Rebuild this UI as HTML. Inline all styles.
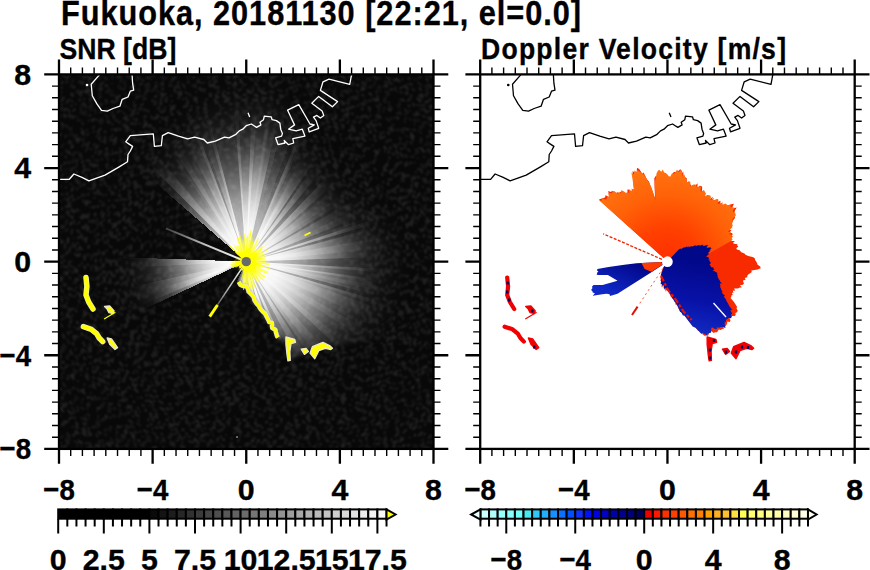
<!DOCTYPE html><html><head><meta charset="utf-8"><style>html,body{margin:0;padding:0;background:#fff;width:870px;height:570px;overflow:hidden}svg{display:block}text{font-family:"Liberation Sans",sans-serif;font-weight:bold;fill:#000;stroke:#000;stroke-width:0.35px}</style></head><body><svg width="870" height="570" viewBox="0 0 870 570"><rect x="59.0" y="74.4" width="374.5" height="374.5" fill="#080808"/><defs><filter id="bl2" color-interpolation-filters="sRGB" filterUnits="userSpaceOnUse" x="0" y="0" width="870" height="570"><feGaussianBlur stdDeviation="2.2"/></filter><filter id="bl" color-interpolation-filters="sRGB" x="-5%" y="-5%" width="110%" height="110%"><feGaussianBlur stdDeviation="1.0"/></filter><clipPath id="cpL"><rect x="59" y="74.4" width="374.5" height="374.5"/></clipPath><clipPath id="cpR"><rect x="480.2" y="74.4" width="374.5" height="374.5"/></clipPath><radialGradient id="gb0" gradientUnits="userSpaceOnUse" cx="246.25" cy="261.65" r="200"><stop offset="0.000" stop-color="#fff" stop-opacity="0.997"/><stop offset="0.083" stop-color="#fff" stop-opacity="0.995"/><stop offset="0.167" stop-color="#fff" stop-opacity="0.947"/><stop offset="0.250" stop-color="#fff" stop-opacity="0.817"/><stop offset="0.333" stop-color="#fff" stop-opacity="0.619"/><stop offset="0.417" stop-color="#fff" stop-opacity="0.402"/><stop offset="0.500" stop-color="#fff" stop-opacity="0.218"/><stop offset="0.583" stop-color="#fff" stop-opacity="0.096"/><stop offset="0.667" stop-color="#fff" stop-opacity="0.033"/><stop offset="0.750" stop-color="#fff" stop-opacity="0.007"/><stop offset="0.833" stop-color="#fff" stop-opacity="0.000"/><stop offset="0.917" stop-color="#fff" stop-opacity="0.000"/><stop offset="1.000" stop-color="#fff" stop-opacity="0.000"/></radialGradient><radialGradient id="gb1" gradientUnits="userSpaceOnUse" cx="246.25" cy="261.65" r="200"><stop offset="0.000" stop-color="#fff" stop-opacity="0.997"/><stop offset="0.083" stop-color="#fff" stop-opacity="0.995"/><stop offset="0.167" stop-color="#fff" stop-opacity="0.947"/><stop offset="0.250" stop-color="#fff" stop-opacity="0.817"/><stop offset="0.333" stop-color="#fff" stop-opacity="0.619"/><stop offset="0.417" stop-color="#fff" stop-opacity="0.402"/><stop offset="0.500" stop-color="#fff" stop-opacity="0.218"/><stop offset="0.583" stop-color="#fff" stop-opacity="0.096"/><stop offset="0.667" stop-color="#fff" stop-opacity="0.033"/><stop offset="0.750" stop-color="#fff" stop-opacity="0.007"/><stop offset="0.833" stop-color="#fff" stop-opacity="0.000"/><stop offset="0.917" stop-color="#fff" stop-opacity="0.000"/><stop offset="1.000" stop-color="#fff" stop-opacity="0.000"/></radialGradient><radialGradient id="gb2" gradientUnits="userSpaceOnUse" cx="246.25" cy="261.65" r="200"><stop offset="0.000" stop-color="#fff" stop-opacity="0.997"/><stop offset="0.083" stop-color="#fff" stop-opacity="0.995"/><stop offset="0.167" stop-color="#fff" stop-opacity="0.947"/><stop offset="0.250" stop-color="#fff" stop-opacity="0.817"/><stop offset="0.333" stop-color="#fff" stop-opacity="0.619"/><stop offset="0.417" stop-color="#fff" stop-opacity="0.402"/><stop offset="0.500" stop-color="#fff" stop-opacity="0.218"/><stop offset="0.583" stop-color="#fff" stop-opacity="0.096"/><stop offset="0.667" stop-color="#fff" stop-opacity="0.033"/><stop offset="0.750" stop-color="#fff" stop-opacity="0.007"/><stop offset="0.833" stop-color="#fff" stop-opacity="0.000"/><stop offset="0.917" stop-color="#fff" stop-opacity="0.000"/><stop offset="1.000" stop-color="#fff" stop-opacity="0.000"/></radialGradient><radialGradient id="gb3" gradientUnits="userSpaceOnUse" cx="246.25" cy="261.65" r="200"><stop offset="0.000" stop-color="#fff" stop-opacity="0.997"/><stop offset="0.083" stop-color="#fff" stop-opacity="0.995"/><stop offset="0.167" stop-color="#fff" stop-opacity="0.947"/><stop offset="0.250" stop-color="#fff" stop-opacity="0.817"/><stop offset="0.333" stop-color="#fff" stop-opacity="0.619"/><stop offset="0.417" stop-color="#fff" stop-opacity="0.402"/><stop offset="0.500" stop-color="#fff" stop-opacity="0.218"/><stop offset="0.583" stop-color="#fff" stop-opacity="0.096"/><stop offset="0.667" stop-color="#fff" stop-opacity="0.033"/><stop offset="0.750" stop-color="#fff" stop-opacity="0.007"/><stop offset="0.833" stop-color="#fff" stop-opacity="0.000"/><stop offset="0.917" stop-color="#fff" stop-opacity="0.000"/><stop offset="1.000" stop-color="#fff" stop-opacity="0.000"/></radialGradient><radialGradient id="gb4" gradientUnits="userSpaceOnUse" cx="246.25" cy="261.65" r="200"><stop offset="0.000" stop-color="#fff" stop-opacity="0.997"/><stop offset="0.083" stop-color="#fff" stop-opacity="0.995"/><stop offset="0.167" stop-color="#fff" stop-opacity="0.947"/><stop offset="0.250" stop-color="#fff" stop-opacity="0.817"/><stop offset="0.333" stop-color="#fff" stop-opacity="0.619"/><stop offset="0.417" stop-color="#fff" stop-opacity="0.402"/><stop offset="0.500" stop-color="#fff" stop-opacity="0.218"/><stop offset="0.583" stop-color="#fff" stop-opacity="0.096"/><stop offset="0.667" stop-color="#fff" stop-opacity="0.033"/><stop offset="0.750" stop-color="#fff" stop-opacity="0.007"/><stop offset="0.833" stop-color="#fff" stop-opacity="0.000"/><stop offset="0.917" stop-color="#fff" stop-opacity="0.000"/><stop offset="1.000" stop-color="#fff" stop-opacity="0.000"/></radialGradient><radialGradient id="gb5" gradientUnits="userSpaceOnUse" cx="246.25" cy="261.65" r="200"><stop offset="0.000" stop-color="#fff" stop-opacity="0.997"/><stop offset="0.083" stop-color="#fff" stop-opacity="0.995"/><stop offset="0.167" stop-color="#fff" stop-opacity="0.947"/><stop offset="0.250" stop-color="#fff" stop-opacity="0.817"/><stop offset="0.333" stop-color="#fff" stop-opacity="0.619"/><stop offset="0.417" stop-color="#fff" stop-opacity="0.402"/><stop offset="0.500" stop-color="#fff" stop-opacity="0.218"/><stop offset="0.583" stop-color="#fff" stop-opacity="0.096"/><stop offset="0.667" stop-color="#fff" stop-opacity="0.033"/><stop offset="0.750" stop-color="#fff" stop-opacity="0.007"/><stop offset="0.833" stop-color="#fff" stop-opacity="0.000"/><stop offset="0.917" stop-color="#fff" stop-opacity="0.000"/><stop offset="1.000" stop-color="#fff" stop-opacity="0.000"/></radialGradient><radialGradient id="gb6" gradientUnits="userSpaceOnUse" cx="246.25" cy="261.65" r="200"><stop offset="0.000" stop-color="#fff" stop-opacity="0.997"/><stop offset="0.083" stop-color="#fff" stop-opacity="0.995"/><stop offset="0.167" stop-color="#fff" stop-opacity="0.947"/><stop offset="0.250" stop-color="#fff" stop-opacity="0.817"/><stop offset="0.333" stop-color="#fff" stop-opacity="0.619"/><stop offset="0.417" stop-color="#fff" stop-opacity="0.402"/><stop offset="0.500" stop-color="#fff" stop-opacity="0.218"/><stop offset="0.583" stop-color="#fff" stop-opacity="0.096"/><stop offset="0.667" stop-color="#fff" stop-opacity="0.033"/><stop offset="0.750" stop-color="#fff" stop-opacity="0.007"/><stop offset="0.833" stop-color="#fff" stop-opacity="0.000"/><stop offset="0.917" stop-color="#fff" stop-opacity="0.000"/><stop offset="1.000" stop-color="#fff" stop-opacity="0.000"/></radialGradient><radialGradient id="gb7" gradientUnits="userSpaceOnUse" cx="246.25" cy="261.65" r="200"><stop offset="0.000" stop-color="#fff" stop-opacity="0.997"/><stop offset="0.083" stop-color="#fff" stop-opacity="0.995"/><stop offset="0.167" stop-color="#fff" stop-opacity="0.947"/><stop offset="0.250" stop-color="#fff" stop-opacity="0.817"/><stop offset="0.333" stop-color="#fff" stop-opacity="0.619"/><stop offset="0.417" stop-color="#fff" stop-opacity="0.402"/><stop offset="0.500" stop-color="#fff" stop-opacity="0.218"/><stop offset="0.583" stop-color="#fff" stop-opacity="0.096"/><stop offset="0.667" stop-color="#fff" stop-opacity="0.033"/><stop offset="0.750" stop-color="#fff" stop-opacity="0.007"/><stop offset="0.833" stop-color="#fff" stop-opacity="0.000"/><stop offset="0.917" stop-color="#fff" stop-opacity="0.000"/><stop offset="1.000" stop-color="#fff" stop-opacity="0.000"/></radialGradient><radialGradient id="gb8" gradientUnits="userSpaceOnUse" cx="246.25" cy="261.65" r="200"><stop offset="0.000" stop-color="#fff" stop-opacity="0.997"/><stop offset="0.083" stop-color="#fff" stop-opacity="0.995"/><stop offset="0.167" stop-color="#fff" stop-opacity="0.947"/><stop offset="0.250" stop-color="#fff" stop-opacity="0.817"/><stop offset="0.333" stop-color="#fff" stop-opacity="0.619"/><stop offset="0.417" stop-color="#fff" stop-opacity="0.402"/><stop offset="0.500" stop-color="#fff" stop-opacity="0.218"/><stop offset="0.583" stop-color="#fff" stop-opacity="0.096"/><stop offset="0.667" stop-color="#fff" stop-opacity="0.033"/><stop offset="0.750" stop-color="#fff" stop-opacity="0.007"/><stop offset="0.833" stop-color="#fff" stop-opacity="0.000"/><stop offset="0.917" stop-color="#fff" stop-opacity="0.000"/><stop offset="1.000" stop-color="#fff" stop-opacity="0.000"/></radialGradient><radialGradient id="gb9" gradientUnits="userSpaceOnUse" cx="246.25" cy="261.65" r="200"><stop offset="0.000" stop-color="#fff" stop-opacity="0.997"/><stop offset="0.083" stop-color="#fff" stop-opacity="0.995"/><stop offset="0.167" stop-color="#fff" stop-opacity="0.947"/><stop offset="0.250" stop-color="#fff" stop-opacity="0.817"/><stop offset="0.333" stop-color="#fff" stop-opacity="0.619"/><stop offset="0.417" stop-color="#fff" stop-opacity="0.402"/><stop offset="0.500" stop-color="#fff" stop-opacity="0.218"/><stop offset="0.583" stop-color="#fff" stop-opacity="0.096"/><stop offset="0.667" stop-color="#fff" stop-opacity="0.033"/><stop offset="0.750" stop-color="#fff" stop-opacity="0.007"/><stop offset="0.833" stop-color="#fff" stop-opacity="0.000"/><stop offset="0.917" stop-color="#fff" stop-opacity="0.000"/><stop offset="1.000" stop-color="#fff" stop-opacity="0.000"/></radialGradient><radialGradient id="gb10" gradientUnits="userSpaceOnUse" cx="246.25" cy="261.65" r="200"><stop offset="0.000" stop-color="#fff" stop-opacity="0.997"/><stop offset="0.083" stop-color="#fff" stop-opacity="0.995"/><stop offset="0.167" stop-color="#fff" stop-opacity="0.947"/><stop offset="0.250" stop-color="#fff" stop-opacity="0.817"/><stop offset="0.333" stop-color="#fff" stop-opacity="0.619"/><stop offset="0.417" stop-color="#fff" stop-opacity="0.402"/><stop offset="0.500" stop-color="#fff" stop-opacity="0.218"/><stop offset="0.583" stop-color="#fff" stop-opacity="0.096"/><stop offset="0.667" stop-color="#fff" stop-opacity="0.033"/><stop offset="0.750" stop-color="#fff" stop-opacity="0.007"/><stop offset="0.833" stop-color="#fff" stop-opacity="0.000"/><stop offset="0.917" stop-color="#fff" stop-opacity="0.000"/><stop offset="1.000" stop-color="#fff" stop-opacity="0.000"/></radialGradient><radialGradient id="gb11" gradientUnits="userSpaceOnUse" cx="246.25" cy="261.65" r="200"><stop offset="0.000" stop-color="#fff" stop-opacity="0.997"/><stop offset="0.083" stop-color="#fff" stop-opacity="0.995"/><stop offset="0.167" stop-color="#fff" stop-opacity="0.947"/><stop offset="0.250" stop-color="#fff" stop-opacity="0.817"/><stop offset="0.333" stop-color="#fff" stop-opacity="0.620"/><stop offset="0.417" stop-color="#fff" stop-opacity="0.403"/><stop offset="0.500" stop-color="#fff" stop-opacity="0.219"/><stop offset="0.583" stop-color="#fff" stop-opacity="0.097"/><stop offset="0.667" stop-color="#fff" stop-opacity="0.034"/><stop offset="0.750" stop-color="#fff" stop-opacity="0.008"/><stop offset="0.833" stop-color="#fff" stop-opacity="0.000"/><stop offset="0.917" stop-color="#fff" stop-opacity="0.000"/><stop offset="1.000" stop-color="#fff" stop-opacity="0.000"/></radialGradient><radialGradient id="gb12" gradientUnits="userSpaceOnUse" cx="246.25" cy="261.65" r="200"><stop offset="0.000" stop-color="#fff" stop-opacity="0.997"/><stop offset="0.083" stop-color="#fff" stop-opacity="0.995"/><stop offset="0.167" stop-color="#fff" stop-opacity="0.947"/><stop offset="0.250" stop-color="#fff" stop-opacity="0.819"/><stop offset="0.333" stop-color="#fff" stop-opacity="0.623"/><stop offset="0.417" stop-color="#fff" stop-opacity="0.406"/><stop offset="0.500" stop-color="#fff" stop-opacity="0.222"/><stop offset="0.583" stop-color="#fff" stop-opacity="0.099"/><stop offset="0.667" stop-color="#fff" stop-opacity="0.035"/><stop offset="0.750" stop-color="#fff" stop-opacity="0.008"/><stop offset="0.833" stop-color="#fff" stop-opacity="0.000"/><stop offset="0.917" stop-color="#fff" stop-opacity="0.000"/><stop offset="1.000" stop-color="#fff" stop-opacity="0.000"/></radialGradient><radialGradient id="gb13" gradientUnits="userSpaceOnUse" cx="246.25" cy="261.65" r="200"><stop offset="0.000" stop-color="#fff" stop-opacity="0.997"/><stop offset="0.083" stop-color="#fff" stop-opacity="0.995"/><stop offset="0.167" stop-color="#fff" stop-opacity="0.948"/><stop offset="0.250" stop-color="#fff" stop-opacity="0.820"/><stop offset="0.333" stop-color="#fff" stop-opacity="0.625"/><stop offset="0.417" stop-color="#fff" stop-opacity="0.409"/><stop offset="0.500" stop-color="#fff" stop-opacity="0.225"/><stop offset="0.583" stop-color="#fff" stop-opacity="0.101"/><stop offset="0.667" stop-color="#fff" stop-opacity="0.036"/><stop offset="0.750" stop-color="#fff" stop-opacity="0.009"/><stop offset="0.833" stop-color="#fff" stop-opacity="0.000"/><stop offset="0.917" stop-color="#fff" stop-opacity="0.000"/><stop offset="1.000" stop-color="#fff" stop-opacity="0.000"/></radialGradient><radialGradient id="gb14" gradientUnits="userSpaceOnUse" cx="246.25" cy="261.65" r="200"><stop offset="0.000" stop-color="#fff" stop-opacity="0.997"/><stop offset="0.083" stop-color="#fff" stop-opacity="0.995"/><stop offset="0.167" stop-color="#fff" stop-opacity="0.948"/><stop offset="0.250" stop-color="#fff" stop-opacity="0.822"/><stop offset="0.333" stop-color="#fff" stop-opacity="0.628"/><stop offset="0.417" stop-color="#fff" stop-opacity="0.413"/><stop offset="0.500" stop-color="#fff" stop-opacity="0.228"/><stop offset="0.583" stop-color="#fff" stop-opacity="0.103"/><stop offset="0.667" stop-color="#fff" stop-opacity="0.037"/><stop offset="0.750" stop-color="#fff" stop-opacity="0.009"/><stop offset="0.833" stop-color="#fff" stop-opacity="0.000"/><stop offset="0.917" stop-color="#fff" stop-opacity="0.000"/><stop offset="1.000" stop-color="#fff" stop-opacity="0.000"/></radialGradient><radialGradient id="gb15" gradientUnits="userSpaceOnUse" cx="246.25" cy="261.65" r="200"><stop offset="0.000" stop-color="#fff" stop-opacity="0.997"/><stop offset="0.083" stop-color="#fff" stop-opacity="0.995"/><stop offset="0.167" stop-color="#fff" stop-opacity="0.948"/><stop offset="0.250" stop-color="#fff" stop-opacity="0.823"/><stop offset="0.333" stop-color="#fff" stop-opacity="0.630"/><stop offset="0.417" stop-color="#fff" stop-opacity="0.416"/><stop offset="0.500" stop-color="#fff" stop-opacity="0.231"/><stop offset="0.583" stop-color="#fff" stop-opacity="0.105"/><stop offset="0.667" stop-color="#fff" stop-opacity="0.038"/><stop offset="0.750" stop-color="#fff" stop-opacity="0.009"/><stop offset="0.833" stop-color="#fff" stop-opacity="0.000"/><stop offset="0.917" stop-color="#fff" stop-opacity="0.000"/><stop offset="1.000" stop-color="#fff" stop-opacity="0.000"/></radialGradient><radialGradient id="gb16" gradientUnits="userSpaceOnUse" cx="246.25" cy="261.65" r="200"><stop offset="0.000" stop-color="#fff" stop-opacity="0.997"/><stop offset="0.083" stop-color="#fff" stop-opacity="0.995"/><stop offset="0.167" stop-color="#fff" stop-opacity="0.949"/><stop offset="0.250" stop-color="#fff" stop-opacity="0.824"/><stop offset="0.333" stop-color="#fff" stop-opacity="0.633"/><stop offset="0.417" stop-color="#fff" stop-opacity="0.419"/><stop offset="0.500" stop-color="#fff" stop-opacity="0.234"/><stop offset="0.583" stop-color="#fff" stop-opacity="0.108"/><stop offset="0.667" stop-color="#fff" stop-opacity="0.039"/><stop offset="0.750" stop-color="#fff" stop-opacity="0.010"/><stop offset="0.833" stop-color="#fff" stop-opacity="0.000"/><stop offset="0.917" stop-color="#fff" stop-opacity="0.000"/><stop offset="1.000" stop-color="#fff" stop-opacity="0.000"/></radialGradient><radialGradient id="gb17" gradientUnits="userSpaceOnUse" cx="246.25" cy="261.65" r="200"><stop offset="0.000" stop-color="#fff" stop-opacity="0.997"/><stop offset="0.083" stop-color="#fff" stop-opacity="0.995"/><stop offset="0.167" stop-color="#fff" stop-opacity="0.949"/><stop offset="0.250" stop-color="#fff" stop-opacity="0.826"/><stop offset="0.333" stop-color="#fff" stop-opacity="0.635"/><stop offset="0.417" stop-color="#fff" stop-opacity="0.422"/><stop offset="0.500" stop-color="#fff" stop-opacity="0.237"/><stop offset="0.583" stop-color="#fff" stop-opacity="0.110"/><stop offset="0.667" stop-color="#fff" stop-opacity="0.040"/><stop offset="0.750" stop-color="#fff" stop-opacity="0.010"/><stop offset="0.833" stop-color="#fff" stop-opacity="0.000"/><stop offset="0.917" stop-color="#fff" stop-opacity="0.000"/><stop offset="1.000" stop-color="#fff" stop-opacity="0.000"/></radialGradient><radialGradient id="gb18" gradientUnits="userSpaceOnUse" cx="246.25" cy="261.65" r="200"><stop offset="0.000" stop-color="#fff" stop-opacity="0.997"/><stop offset="0.083" stop-color="#fff" stop-opacity="0.995"/><stop offset="0.167" stop-color="#fff" stop-opacity="0.950"/><stop offset="0.250" stop-color="#fff" stop-opacity="0.827"/><stop offset="0.333" stop-color="#fff" stop-opacity="0.638"/><stop offset="0.417" stop-color="#fff" stop-opacity="0.425"/><stop offset="0.500" stop-color="#fff" stop-opacity="0.240"/><stop offset="0.583" stop-color="#fff" stop-opacity="0.112"/><stop offset="0.667" stop-color="#fff" stop-opacity="0.041"/><stop offset="0.750" stop-color="#fff" stop-opacity="0.011"/><stop offset="0.833" stop-color="#fff" stop-opacity="0.000"/><stop offset="0.917" stop-color="#fff" stop-opacity="0.000"/><stop offset="1.000" stop-color="#fff" stop-opacity="0.000"/></radialGradient><radialGradient id="gb19" gradientUnits="userSpaceOnUse" cx="246.25" cy="261.65" r="200"><stop offset="0.000" stop-color="#fff" stop-opacity="0.997"/><stop offset="0.083" stop-color="#fff" stop-opacity="0.995"/><stop offset="0.167" stop-color="#fff" stop-opacity="0.950"/><stop offset="0.250" stop-color="#fff" stop-opacity="0.828"/><stop offset="0.333" stop-color="#fff" stop-opacity="0.639"/><stop offset="0.417" stop-color="#fff" stop-opacity="0.427"/><stop offset="0.500" stop-color="#fff" stop-opacity="0.241"/><stop offset="0.583" stop-color="#fff" stop-opacity="0.113"/><stop offset="0.667" stop-color="#fff" stop-opacity="0.042"/><stop offset="0.750" stop-color="#fff" stop-opacity="0.011"/><stop offset="0.833" stop-color="#fff" stop-opacity="0.001"/><stop offset="0.917" stop-color="#fff" stop-opacity="0.000"/><stop offset="1.000" stop-color="#fff" stop-opacity="0.000"/></radialGradient><radialGradient id="gb20" gradientUnits="userSpaceOnUse" cx="246.25" cy="261.65" r="200"><stop offset="0.000" stop-color="#fff" stop-opacity="0.997"/><stop offset="0.083" stop-color="#fff" stop-opacity="0.995"/><stop offset="0.167" stop-color="#fff" stop-opacity="0.950"/><stop offset="0.250" stop-color="#fff" stop-opacity="0.828"/><stop offset="0.333" stop-color="#fff" stop-opacity="0.639"/><stop offset="0.417" stop-color="#fff" stop-opacity="0.427"/><stop offset="0.500" stop-color="#fff" stop-opacity="0.241"/><stop offset="0.583" stop-color="#fff" stop-opacity="0.113"/><stop offset="0.667" stop-color="#fff" stop-opacity="0.042"/><stop offset="0.750" stop-color="#fff" stop-opacity="0.011"/><stop offset="0.833" stop-color="#fff" stop-opacity="0.001"/><stop offset="0.917" stop-color="#fff" stop-opacity="0.000"/><stop offset="1.000" stop-color="#fff" stop-opacity="0.000"/></radialGradient><radialGradient id="gb21" gradientUnits="userSpaceOnUse" cx="246.25" cy="261.65" r="200"><stop offset="0.000" stop-color="#fff" stop-opacity="0.997"/><stop offset="0.083" stop-color="#fff" stop-opacity="0.995"/><stop offset="0.167" stop-color="#fff" stop-opacity="0.950"/><stop offset="0.250" stop-color="#fff" stop-opacity="0.828"/><stop offset="0.333" stop-color="#fff" stop-opacity="0.639"/><stop offset="0.417" stop-color="#fff" stop-opacity="0.427"/><stop offset="0.500" stop-color="#fff" stop-opacity="0.241"/><stop offset="0.583" stop-color="#fff" stop-opacity="0.113"/><stop offset="0.667" stop-color="#fff" stop-opacity="0.042"/><stop offset="0.750" stop-color="#fff" stop-opacity="0.011"/><stop offset="0.833" stop-color="#fff" stop-opacity="0.001"/><stop offset="0.917" stop-color="#fff" stop-opacity="0.000"/><stop offset="1.000" stop-color="#fff" stop-opacity="0.000"/></radialGradient><radialGradient id="gb22" gradientUnits="userSpaceOnUse" cx="246.25" cy="261.65" r="200"><stop offset="0.000" stop-color="#fff" stop-opacity="0.997"/><stop offset="0.083" stop-color="#fff" stop-opacity="0.995"/><stop offset="0.167" stop-color="#fff" stop-opacity="0.950"/><stop offset="0.250" stop-color="#fff" stop-opacity="0.828"/><stop offset="0.333" stop-color="#fff" stop-opacity="0.639"/><stop offset="0.417" stop-color="#fff" stop-opacity="0.427"/><stop offset="0.500" stop-color="#fff" stop-opacity="0.241"/><stop offset="0.583" stop-color="#fff" stop-opacity="0.113"/><stop offset="0.667" stop-color="#fff" stop-opacity="0.042"/><stop offset="0.750" stop-color="#fff" stop-opacity="0.011"/><stop offset="0.833" stop-color="#fff" stop-opacity="0.001"/><stop offset="0.917" stop-color="#fff" stop-opacity="0.000"/><stop offset="1.000" stop-color="#fff" stop-opacity="0.000"/></radialGradient><radialGradient id="gb23" gradientUnits="userSpaceOnUse" cx="246.25" cy="261.65" r="200"><stop offset="0.000" stop-color="#fff" stop-opacity="0.997"/><stop offset="0.083" stop-color="#fff" stop-opacity="0.995"/><stop offset="0.167" stop-color="#fff" stop-opacity="0.950"/><stop offset="0.250" stop-color="#fff" stop-opacity="0.828"/><stop offset="0.333" stop-color="#fff" stop-opacity="0.639"/><stop offset="0.417" stop-color="#fff" stop-opacity="0.427"/><stop offset="0.500" stop-color="#fff" stop-opacity="0.241"/><stop offset="0.583" stop-color="#fff" stop-opacity="0.113"/><stop offset="0.667" stop-color="#fff" stop-opacity="0.042"/><stop offset="0.750" stop-color="#fff" stop-opacity="0.011"/><stop offset="0.833" stop-color="#fff" stop-opacity="0.001"/><stop offset="0.917" stop-color="#fff" stop-opacity="0.000"/><stop offset="1.000" stop-color="#fff" stop-opacity="0.000"/></radialGradient><radialGradient id="gb24" gradientUnits="userSpaceOnUse" cx="246.25" cy="261.65" r="200"><stop offset="0.000" stop-color="#fff" stop-opacity="0.997"/><stop offset="0.083" stop-color="#fff" stop-opacity="0.995"/><stop offset="0.167" stop-color="#fff" stop-opacity="0.950"/><stop offset="0.250" stop-color="#fff" stop-opacity="0.828"/><stop offset="0.333" stop-color="#fff" stop-opacity="0.639"/><stop offset="0.417" stop-color="#fff" stop-opacity="0.427"/><stop offset="0.500" stop-color="#fff" stop-opacity="0.241"/><stop offset="0.583" stop-color="#fff" stop-opacity="0.113"/><stop offset="0.667" stop-color="#fff" stop-opacity="0.042"/><stop offset="0.750" stop-color="#fff" stop-opacity="0.011"/><stop offset="0.833" stop-color="#fff" stop-opacity="0.001"/><stop offset="0.917" stop-color="#fff" stop-opacity="0.000"/><stop offset="1.000" stop-color="#fff" stop-opacity="0.000"/></radialGradient><radialGradient id="gb25" gradientUnits="userSpaceOnUse" cx="246.25" cy="261.65" r="200"><stop offset="0.000" stop-color="#fff" stop-opacity="0.997"/><stop offset="0.083" stop-color="#fff" stop-opacity="0.995"/><stop offset="0.167" stop-color="#fff" stop-opacity="0.946"/><stop offset="0.250" stop-color="#fff" stop-opacity="0.813"/><stop offset="0.333" stop-color="#fff" stop-opacity="0.613"/><stop offset="0.417" stop-color="#fff" stop-opacity="0.394"/><stop offset="0.500" stop-color="#fff" stop-opacity="0.211"/><stop offset="0.583" stop-color="#fff" stop-opacity="0.092"/><stop offset="0.667" stop-color="#fff" stop-opacity="0.031"/><stop offset="0.750" stop-color="#fff" stop-opacity="0.007"/><stop offset="0.833" stop-color="#fff" stop-opacity="0.000"/><stop offset="0.917" stop-color="#fff" stop-opacity="0.000"/><stop offset="1.000" stop-color="#fff" stop-opacity="0.000"/></radialGradient><radialGradient id="gb26" gradientUnits="userSpaceOnUse" cx="246.25" cy="261.65" r="200"><stop offset="0.000" stop-color="#fff" stop-opacity="0.997"/><stop offset="0.083" stop-color="#fff" stop-opacity="0.994"/><stop offset="0.167" stop-color="#fff" stop-opacity="0.940"/><stop offset="0.250" stop-color="#fff" stop-opacity="0.796"/><stop offset="0.333" stop-color="#fff" stop-opacity="0.582"/><stop offset="0.417" stop-color="#fff" stop-opacity="0.357"/><stop offset="0.500" stop-color="#fff" stop-opacity="0.179"/><stop offset="0.583" stop-color="#fff" stop-opacity="0.071"/><stop offset="0.667" stop-color="#fff" stop-opacity="0.021"/><stop offset="0.750" stop-color="#fff" stop-opacity="0.003"/><stop offset="0.833" stop-color="#fff" stop-opacity="0.000"/><stop offset="0.917" stop-color="#fff" stop-opacity="0.000"/><stop offset="1.000" stop-color="#fff" stop-opacity="0.000"/></radialGradient><radialGradient id="gb27" gradientUnits="userSpaceOnUse" cx="246.25" cy="261.65" r="200"><stop offset="0.000" stop-color="#fff" stop-opacity="0.997"/><stop offset="0.083" stop-color="#fff" stop-opacity="0.994"/><stop offset="0.167" stop-color="#fff" stop-opacity="0.934"/><stop offset="0.250" stop-color="#fff" stop-opacity="0.776"/><stop offset="0.333" stop-color="#fff" stop-opacity="0.548"/><stop offset="0.417" stop-color="#fff" stop-opacity="0.319"/><stop offset="0.500" stop-color="#fff" stop-opacity="0.148"/><stop offset="0.583" stop-color="#fff" stop-opacity="0.052"/><stop offset="0.667" stop-color="#fff" stop-opacity="0.013"/><stop offset="0.750" stop-color="#fff" stop-opacity="0.000"/><stop offset="0.833" stop-color="#fff" stop-opacity="0.000"/><stop offset="0.917" stop-color="#fff" stop-opacity="0.000"/><stop offset="1.000" stop-color="#fff" stop-opacity="0.000"/></radialGradient><radialGradient id="gb28" gradientUnits="userSpaceOnUse" cx="246.25" cy="261.65" r="200"><stop offset="0.000" stop-color="#fff" stop-opacity="0.997"/><stop offset="0.083" stop-color="#fff" stop-opacity="0.994"/><stop offset="0.167" stop-color="#fff" stop-opacity="0.929"/><stop offset="0.250" stop-color="#fff" stop-opacity="0.759"/><stop offset="0.333" stop-color="#fff" stop-opacity="0.520"/><stop offset="0.417" stop-color="#fff" stop-opacity="0.287"/><stop offset="0.500" stop-color="#fff" stop-opacity="0.124"/><stop offset="0.583" stop-color="#fff" stop-opacity="0.040"/><stop offset="0.667" stop-color="#fff" stop-opacity="0.008"/><stop offset="0.750" stop-color="#fff" stop-opacity="0.000"/><stop offset="0.833" stop-color="#fff" stop-opacity="0.000"/><stop offset="0.917" stop-color="#fff" stop-opacity="0.000"/><stop offset="1.000" stop-color="#fff" stop-opacity="0.000"/></radialGradient><radialGradient id="gb29" gradientUnits="userSpaceOnUse" cx="246.25" cy="261.65" r="200"><stop offset="0.000" stop-color="#fff" stop-opacity="0.997"/><stop offset="0.083" stop-color="#fff" stop-opacity="0.994"/><stop offset="0.167" stop-color="#fff" stop-opacity="0.923"/><stop offset="0.250" stop-color="#fff" stop-opacity="0.740"/><stop offset="0.333" stop-color="#fff" stop-opacity="0.489"/><stop offset="0.417" stop-color="#fff" stop-opacity="0.256"/><stop offset="0.500" stop-color="#fff" stop-opacity="0.102"/><stop offset="0.583" stop-color="#fff" stop-opacity="0.029"/><stop offset="0.667" stop-color="#fff" stop-opacity="0.004"/><stop offset="0.750" stop-color="#fff" stop-opacity="0.000"/><stop offset="0.833" stop-color="#fff" stop-opacity="0.000"/><stop offset="0.917" stop-color="#fff" stop-opacity="0.000"/><stop offset="1.000" stop-color="#fff" stop-opacity="0.000"/></radialGradient><radialGradient id="gb30" gradientUnits="userSpaceOnUse" cx="246.25" cy="261.65" r="200"><stop offset="0.000" stop-color="#fff" stop-opacity="0.997"/><stop offset="0.083" stop-color="#fff" stop-opacity="0.993"/><stop offset="0.167" stop-color="#fff" stop-opacity="0.916"/><stop offset="0.250" stop-color="#fff" stop-opacity="0.719"/><stop offset="0.333" stop-color="#fff" stop-opacity="0.456"/><stop offset="0.417" stop-color="#fff" stop-opacity="0.224"/><stop offset="0.500" stop-color="#fff" stop-opacity="0.081"/><stop offset="0.583" stop-color="#fff" stop-opacity="0.020"/><stop offset="0.667" stop-color="#fff" stop-opacity="0.001"/><stop offset="0.750" stop-color="#fff" stop-opacity="0.000"/><stop offset="0.833" stop-color="#fff" stop-opacity="0.000"/><stop offset="0.917" stop-color="#fff" stop-opacity="0.000"/><stop offset="1.000" stop-color="#fff" stop-opacity="0.000"/></radialGradient><radialGradient id="gb31" gradientUnits="userSpaceOnUse" cx="246.25" cy="261.65" r="200"><stop offset="0.000" stop-color="#fff" stop-opacity="0.997"/><stop offset="0.083" stop-color="#fff" stop-opacity="0.993"/><stop offset="0.167" stop-color="#fff" stop-opacity="0.914"/><stop offset="0.250" stop-color="#fff" stop-opacity="0.715"/><stop offset="0.333" stop-color="#fff" stop-opacity="0.450"/><stop offset="0.417" stop-color="#fff" stop-opacity="0.218"/><stop offset="0.500" stop-color="#fff" stop-opacity="0.078"/><stop offset="0.583" stop-color="#fff" stop-opacity="0.018"/><stop offset="0.667" stop-color="#fff" stop-opacity="0.001"/><stop offset="0.750" stop-color="#fff" stop-opacity="0.000"/><stop offset="0.833" stop-color="#fff" stop-opacity="0.000"/><stop offset="0.917" stop-color="#fff" stop-opacity="0.000"/><stop offset="1.000" stop-color="#fff" stop-opacity="0.000"/></radialGradient><radialGradient id="gb32" gradientUnits="userSpaceOnUse" cx="246.25" cy="261.65" r="200"><stop offset="0.000" stop-color="#fff" stop-opacity="0.997"/><stop offset="0.083" stop-color="#fff" stop-opacity="0.993"/><stop offset="0.167" stop-color="#fff" stop-opacity="0.919"/><stop offset="0.250" stop-color="#fff" stop-opacity="0.728"/><stop offset="0.333" stop-color="#fff" stop-opacity="0.470"/><stop offset="0.417" stop-color="#fff" stop-opacity="0.238"/><stop offset="0.500" stop-color="#fff" stop-opacity="0.090"/><stop offset="0.583" stop-color="#fff" stop-opacity="0.023"/><stop offset="0.667" stop-color="#fff" stop-opacity="0.002"/><stop offset="0.750" stop-color="#fff" stop-opacity="0.000"/><stop offset="0.833" stop-color="#fff" stop-opacity="0.000"/><stop offset="0.917" stop-color="#fff" stop-opacity="0.000"/><stop offset="1.000" stop-color="#fff" stop-opacity="0.000"/></radialGradient><radialGradient id="gb33" gradientUnits="userSpaceOnUse" cx="246.25" cy="261.65" r="200"><stop offset="0.000" stop-color="#fff" stop-opacity="0.997"/><stop offset="0.083" stop-color="#fff" stop-opacity="0.994"/><stop offset="0.167" stop-color="#fff" stop-opacity="0.923"/><stop offset="0.250" stop-color="#fff" stop-opacity="0.741"/><stop offset="0.333" stop-color="#fff" stop-opacity="0.490"/><stop offset="0.417" stop-color="#fff" stop-opacity="0.257"/><stop offset="0.500" stop-color="#fff" stop-opacity="0.103"/><stop offset="0.583" stop-color="#fff" stop-opacity="0.029"/><stop offset="0.667" stop-color="#fff" stop-opacity="0.004"/><stop offset="0.750" stop-color="#fff" stop-opacity="0.000"/><stop offset="0.833" stop-color="#fff" stop-opacity="0.000"/><stop offset="0.917" stop-color="#fff" stop-opacity="0.000"/><stop offset="1.000" stop-color="#fff" stop-opacity="0.000"/></radialGradient><radialGradient id="gb34" gradientUnits="userSpaceOnUse" cx="246.25" cy="261.65" r="200"><stop offset="0.000" stop-color="#fff" stop-opacity="0.997"/><stop offset="0.083" stop-color="#fff" stop-opacity="0.994"/><stop offset="0.167" stop-color="#fff" stop-opacity="0.927"/><stop offset="0.250" stop-color="#fff" stop-opacity="0.753"/><stop offset="0.333" stop-color="#fff" stop-opacity="0.509"/><stop offset="0.417" stop-color="#fff" stop-opacity="0.276"/><stop offset="0.500" stop-color="#fff" stop-opacity="0.116"/><stop offset="0.583" stop-color="#fff" stop-opacity="0.036"/><stop offset="0.667" stop-color="#fff" stop-opacity="0.006"/><stop offset="0.750" stop-color="#fff" stop-opacity="0.000"/><stop offset="0.833" stop-color="#fff" stop-opacity="0.000"/><stop offset="0.917" stop-color="#fff" stop-opacity="0.000"/><stop offset="1.000" stop-color="#fff" stop-opacity="0.000"/></radialGradient><radialGradient id="gb35" gradientUnits="userSpaceOnUse" cx="246.25" cy="261.65" r="200"><stop offset="0.000" stop-color="#fff" stop-opacity="0.997"/><stop offset="0.083" stop-color="#fff" stop-opacity="0.994"/><stop offset="0.167" stop-color="#fff" stop-opacity="0.931"/><stop offset="0.250" stop-color="#fff" stop-opacity="0.767"/><stop offset="0.333" stop-color="#fff" stop-opacity="0.533"/><stop offset="0.417" stop-color="#fff" stop-opacity="0.302"/><stop offset="0.500" stop-color="#fff" stop-opacity="0.135"/><stop offset="0.583" stop-color="#fff" stop-opacity="0.045"/><stop offset="0.667" stop-color="#fff" stop-opacity="0.010"/><stop offset="0.750" stop-color="#fff" stop-opacity="0.000"/><stop offset="0.833" stop-color="#fff" stop-opacity="0.000"/><stop offset="0.917" stop-color="#fff" stop-opacity="0.000"/><stop offset="1.000" stop-color="#fff" stop-opacity="0.000"/></radialGradient><radialGradient id="gb36" gradientUnits="userSpaceOnUse" cx="246.25" cy="261.65" r="200"><stop offset="0.000" stop-color="#fff" stop-opacity="0.997"/><stop offset="0.083" stop-color="#fff" stop-opacity="0.995"/><stop offset="0.167" stop-color="#fff" stop-opacity="0.943"/><stop offset="0.250" stop-color="#fff" stop-opacity="0.806"/><stop offset="0.333" stop-color="#fff" stop-opacity="0.599"/><stop offset="0.417" stop-color="#fff" stop-opacity="0.377"/><stop offset="0.500" stop-color="#fff" stop-opacity="0.196"/><stop offset="0.583" stop-color="#fff" stop-opacity="0.082"/><stop offset="0.667" stop-color="#fff" stop-opacity="0.026"/><stop offset="0.750" stop-color="#fff" stop-opacity="0.005"/><stop offset="0.833" stop-color="#fff" stop-opacity="0.000"/><stop offset="0.917" stop-color="#fff" stop-opacity="0.000"/><stop offset="1.000" stop-color="#fff" stop-opacity="0.000"/></radialGradient><radialGradient id="gb37" gradientUnits="userSpaceOnUse" cx="246.25" cy="261.65" r="200"><stop offset="0.000" stop-color="#fff" stop-opacity="0.997"/><stop offset="0.083" stop-color="#fff" stop-opacity="0.995"/><stop offset="0.167" stop-color="#fff" stop-opacity="0.952"/><stop offset="0.250" stop-color="#fff" stop-opacity="0.836"/><stop offset="0.333" stop-color="#fff" stop-opacity="0.654"/><stop offset="0.417" stop-color="#fff" stop-opacity="0.447"/><stop offset="0.500" stop-color="#fff" stop-opacity="0.260"/><stop offset="0.583" stop-color="#fff" stop-opacity="0.127"/><stop offset="0.667" stop-color="#fff" stop-opacity="0.050"/><stop offset="0.750" stop-color="#fff" stop-opacity="0.015"/><stop offset="0.833" stop-color="#fff" stop-opacity="0.002"/><stop offset="0.917" stop-color="#fff" stop-opacity="0.000"/><stop offset="1.000" stop-color="#fff" stop-opacity="0.000"/></radialGradient><radialGradient id="gb38" gradientUnits="userSpaceOnUse" cx="246.25" cy="261.65" r="200"><stop offset="0.000" stop-color="#fff" stop-opacity="0.997"/><stop offset="0.083" stop-color="#fff" stop-opacity="0.995"/><stop offset="0.167" stop-color="#fff" stop-opacity="0.959"/><stop offset="0.250" stop-color="#fff" stop-opacity="0.860"/><stop offset="0.333" stop-color="#fff" stop-opacity="0.701"/><stop offset="0.417" stop-color="#fff" stop-opacity="0.509"/><stop offset="0.500" stop-color="#fff" stop-opacity="0.324"/><stop offset="0.583" stop-color="#fff" stop-opacity="0.178"/><stop offset="0.667" stop-color="#fff" stop-opacity="0.083"/><stop offset="0.750" stop-color="#fff" stop-opacity="0.031"/><stop offset="0.833" stop-color="#fff" stop-opacity="0.008"/><stop offset="0.917" stop-color="#fff" stop-opacity="0.000"/><stop offset="1.000" stop-color="#fff" stop-opacity="0.000"/></radialGradient><radialGradient id="gb39" gradientUnits="userSpaceOnUse" cx="246.25" cy="261.65" r="200"><stop offset="0.000" stop-color="#fff" stop-opacity="0.997"/><stop offset="0.083" stop-color="#fff" stop-opacity="0.995"/><stop offset="0.167" stop-color="#fff" stop-opacity="0.962"/><stop offset="0.250" stop-color="#fff" stop-opacity="0.869"/><stop offset="0.333" stop-color="#fff" stop-opacity="0.718"/><stop offset="0.417" stop-color="#fff" stop-opacity="0.533"/><stop offset="0.500" stop-color="#fff" stop-opacity="0.351"/><stop offset="0.583" stop-color="#fff" stop-opacity="0.201"/><stop offset="0.667" stop-color="#fff" stop-opacity="0.099"/><stop offset="0.750" stop-color="#fff" stop-opacity="0.040"/><stop offset="0.833" stop-color="#fff" stop-opacity="0.013"/><stop offset="0.917" stop-color="#fff" stop-opacity="0.002"/><stop offset="1.000" stop-color="#fff" stop-opacity="0.000"/></radialGradient><radialGradient id="gb40" gradientUnits="userSpaceOnUse" cx="246.25" cy="261.65" r="200"><stop offset="0.000" stop-color="#fff" stop-opacity="0.997"/><stop offset="0.083" stop-color="#fff" stop-opacity="0.995"/><stop offset="0.167" stop-color="#fff" stop-opacity="0.961"/><stop offset="0.250" stop-color="#fff" stop-opacity="0.866"/><stop offset="0.333" stop-color="#fff" stop-opacity="0.712"/><stop offset="0.417" stop-color="#fff" stop-opacity="0.525"/><stop offset="0.500" stop-color="#fff" stop-opacity="0.342"/><stop offset="0.583" stop-color="#fff" stop-opacity="0.193"/><stop offset="0.667" stop-color="#fff" stop-opacity="0.093"/><stop offset="0.750" stop-color="#fff" stop-opacity="0.037"/><stop offset="0.833" stop-color="#fff" stop-opacity="0.011"/><stop offset="0.917" stop-color="#fff" stop-opacity="0.001"/><stop offset="1.000" stop-color="#fff" stop-opacity="0.000"/></radialGradient><radialGradient id="gb41" gradientUnits="userSpaceOnUse" cx="246.25" cy="261.65" r="200"><stop offset="0.000" stop-color="#fff" stop-opacity="0.997"/><stop offset="0.083" stop-color="#fff" stop-opacity="0.995"/><stop offset="0.167" stop-color="#fff" stop-opacity="0.960"/><stop offset="0.250" stop-color="#fff" stop-opacity="0.863"/><stop offset="0.333" stop-color="#fff" stop-opacity="0.707"/><stop offset="0.417" stop-color="#fff" stop-opacity="0.517"/><stop offset="0.500" stop-color="#fff" stop-opacity="0.333"/><stop offset="0.583" stop-color="#fff" stop-opacity="0.186"/><stop offset="0.667" stop-color="#fff" stop-opacity="0.088"/><stop offset="0.750" stop-color="#fff" stop-opacity="0.034"/><stop offset="0.833" stop-color="#fff" stop-opacity="0.010"/><stop offset="0.917" stop-color="#fff" stop-opacity="0.001"/><stop offset="1.000" stop-color="#fff" stop-opacity="0.000"/></radialGradient><radialGradient id="gb42" gradientUnits="userSpaceOnUse" cx="246.25" cy="261.65" r="200"><stop offset="0.000" stop-color="#fff" stop-opacity="0.997"/><stop offset="0.083" stop-color="#fff" stop-opacity="0.995"/><stop offset="0.167" stop-color="#fff" stop-opacity="0.959"/><stop offset="0.250" stop-color="#fff" stop-opacity="0.860"/><stop offset="0.333" stop-color="#fff" stop-opacity="0.700"/><stop offset="0.417" stop-color="#fff" stop-opacity="0.509"/><stop offset="0.500" stop-color="#fff" stop-opacity="0.324"/><stop offset="0.583" stop-color="#fff" stop-opacity="0.178"/><stop offset="0.667" stop-color="#fff" stop-opacity="0.083"/><stop offset="0.750" stop-color="#fff" stop-opacity="0.031"/><stop offset="0.833" stop-color="#fff" stop-opacity="0.008"/><stop offset="0.917" stop-color="#fff" stop-opacity="0.000"/><stop offset="1.000" stop-color="#fff" stop-opacity="0.000"/></radialGradient><radialGradient id="gb43" gradientUnits="userSpaceOnUse" cx="246.25" cy="261.65" r="200"><stop offset="0.000" stop-color="#fff" stop-opacity="0.997"/><stop offset="0.083" stop-color="#fff" stop-opacity="0.995"/><stop offset="0.167" stop-color="#fff" stop-opacity="0.959"/><stop offset="0.250" stop-color="#fff" stop-opacity="0.857"/><stop offset="0.333" stop-color="#fff" stop-opacity="0.694"/><stop offset="0.417" stop-color="#fff" stop-opacity="0.500"/><stop offset="0.500" stop-color="#fff" stop-opacity="0.315"/><stop offset="0.583" stop-color="#fff" stop-opacity="0.170"/><stop offset="0.667" stop-color="#fff" stop-opacity="0.078"/><stop offset="0.750" stop-color="#fff" stop-opacity="0.028"/><stop offset="0.833" stop-color="#fff" stop-opacity="0.007"/><stop offset="0.917" stop-color="#fff" stop-opacity="0.000"/><stop offset="1.000" stop-color="#fff" stop-opacity="0.000"/></radialGradient><radialGradient id="gb44" gradientUnits="userSpaceOnUse" cx="246.25" cy="261.65" r="200"><stop offset="0.000" stop-color="#fff" stop-opacity="0.997"/><stop offset="0.083" stop-color="#fff" stop-opacity="0.995"/><stop offset="0.167" stop-color="#fff" stop-opacity="0.956"/><stop offset="0.250" stop-color="#fff" stop-opacity="0.849"/><stop offset="0.333" stop-color="#fff" stop-opacity="0.679"/><stop offset="0.417" stop-color="#fff" stop-opacity="0.479"/><stop offset="0.500" stop-color="#fff" stop-opacity="0.293"/><stop offset="0.583" stop-color="#fff" stop-opacity="0.153"/><stop offset="0.667" stop-color="#fff" stop-opacity="0.066"/><stop offset="0.750" stop-color="#fff" stop-opacity="0.022"/><stop offset="0.833" stop-color="#fff" stop-opacity="0.005"/><stop offset="0.917" stop-color="#fff" stop-opacity="0.000"/><stop offset="1.000" stop-color="#fff" stop-opacity="0.000"/></radialGradient><radialGradient id="gb45" gradientUnits="userSpaceOnUse" cx="246.25" cy="261.65" r="200"><stop offset="0.000" stop-color="#fff" stop-opacity="0.997"/><stop offset="0.083" stop-color="#fff" stop-opacity="0.995"/><stop offset="0.167" stop-color="#fff" stop-opacity="0.952"/><stop offset="0.250" stop-color="#fff" stop-opacity="0.835"/><stop offset="0.333" stop-color="#fff" stop-opacity="0.653"/><stop offset="0.417" stop-color="#fff" stop-opacity="0.445"/><stop offset="0.500" stop-color="#fff" stop-opacity="0.259"/><stop offset="0.583" stop-color="#fff" stop-opacity="0.126"/><stop offset="0.667" stop-color="#fff" stop-opacity="0.049"/><stop offset="0.750" stop-color="#fff" stop-opacity="0.014"/><stop offset="0.833" stop-color="#fff" stop-opacity="0.002"/><stop offset="0.917" stop-color="#fff" stop-opacity="0.000"/><stop offset="1.000" stop-color="#fff" stop-opacity="0.000"/></radialGradient><radialGradient id="gb46" gradientUnits="userSpaceOnUse" cx="246.25" cy="261.65" r="200"><stop offset="0.000" stop-color="#fff" stop-opacity="0.997"/><stop offset="0.083" stop-color="#fff" stop-opacity="0.995"/><stop offset="0.167" stop-color="#fff" stop-opacity="0.947"/><stop offset="0.250" stop-color="#fff" stop-opacity="0.819"/><stop offset="0.333" stop-color="#fff" stop-opacity="0.624"/><stop offset="0.417" stop-color="#fff" stop-opacity="0.408"/><stop offset="0.500" stop-color="#fff" stop-opacity="0.224"/><stop offset="0.583" stop-color="#fff" stop-opacity="0.100"/><stop offset="0.667" stop-color="#fff" stop-opacity="0.035"/><stop offset="0.750" stop-color="#fff" stop-opacity="0.008"/><stop offset="0.833" stop-color="#fff" stop-opacity="0.000"/><stop offset="0.917" stop-color="#fff" stop-opacity="0.000"/><stop offset="1.000" stop-color="#fff" stop-opacity="0.000"/></radialGradient><radialGradient id="gb47" gradientUnits="userSpaceOnUse" cx="246.25" cy="261.65" r="200"><stop offset="0.000" stop-color="#fff" stop-opacity="0.997"/><stop offset="0.083" stop-color="#fff" stop-opacity="0.995"/><stop offset="0.167" stop-color="#fff" stop-opacity="0.942"/><stop offset="0.250" stop-color="#fff" stop-opacity="0.802"/><stop offset="0.333" stop-color="#fff" stop-opacity="0.592"/><stop offset="0.417" stop-color="#fff" stop-opacity="0.369"/><stop offset="0.500" stop-color="#fff" stop-opacity="0.189"/><stop offset="0.583" stop-color="#fff" stop-opacity="0.077"/><stop offset="0.667" stop-color="#fff" stop-opacity="0.024"/><stop offset="0.750" stop-color="#fff" stop-opacity="0.004"/><stop offset="0.833" stop-color="#fff" stop-opacity="0.000"/><stop offset="0.917" stop-color="#fff" stop-opacity="0.000"/><stop offset="1.000" stop-color="#fff" stop-opacity="0.000"/></radialGradient><radialGradient id="gb48" gradientUnits="userSpaceOnUse" cx="246.25" cy="261.65" r="200"><stop offset="0.000" stop-color="#fff" stop-opacity="0.997"/><stop offset="0.083" stop-color="#fff" stop-opacity="0.994"/><stop offset="0.167" stop-color="#fff" stop-opacity="0.937"/><stop offset="0.250" stop-color="#fff" stop-opacity="0.785"/><stop offset="0.333" stop-color="#fff" stop-opacity="0.562"/><stop offset="0.417" stop-color="#fff" stop-opacity="0.334"/><stop offset="0.500" stop-color="#fff" stop-opacity="0.160"/><stop offset="0.583" stop-color="#fff" stop-opacity="0.060"/><stop offset="0.667" stop-color="#fff" stop-opacity="0.016"/><stop offset="0.750" stop-color="#fff" stop-opacity="0.001"/><stop offset="0.833" stop-color="#fff" stop-opacity="0.000"/><stop offset="0.917" stop-color="#fff" stop-opacity="0.000"/><stop offset="1.000" stop-color="#fff" stop-opacity="0.000"/></radialGradient><radialGradient id="gb49" gradientUnits="userSpaceOnUse" cx="246.25" cy="261.65" r="200"><stop offset="0.000" stop-color="#fff" stop-opacity="0.997"/><stop offset="0.083" stop-color="#fff" stop-opacity="0.994"/><stop offset="0.167" stop-color="#fff" stop-opacity="0.932"/><stop offset="0.250" stop-color="#fff" stop-opacity="0.769"/><stop offset="0.333" stop-color="#fff" stop-opacity="0.536"/><stop offset="0.417" stop-color="#fff" stop-opacity="0.305"/><stop offset="0.500" stop-color="#fff" stop-opacity="0.137"/><stop offset="0.583" stop-color="#fff" stop-opacity="0.046"/><stop offset="0.667" stop-color="#fff" stop-opacity="0.010"/><stop offset="0.750" stop-color="#fff" stop-opacity="0.000"/><stop offset="0.833" stop-color="#fff" stop-opacity="0.000"/><stop offset="0.917" stop-color="#fff" stop-opacity="0.000"/><stop offset="1.000" stop-color="#fff" stop-opacity="0.000"/></radialGradient><radialGradient id="gb50" gradientUnits="userSpaceOnUse" cx="246.25" cy="261.65" r="200"><stop offset="0.000" stop-color="#fff" stop-opacity="0.997"/><stop offset="0.083" stop-color="#fff" stop-opacity="0.994"/><stop offset="0.167" stop-color="#fff" stop-opacity="0.927"/><stop offset="0.250" stop-color="#fff" stop-opacity="0.753"/><stop offset="0.333" stop-color="#fff" stop-opacity="0.510"/><stop offset="0.417" stop-color="#fff" stop-opacity="0.278"/><stop offset="0.500" stop-color="#fff" stop-opacity="0.117"/><stop offset="0.583" stop-color="#fff" stop-opacity="0.036"/><stop offset="0.667" stop-color="#fff" stop-opacity="0.006"/><stop offset="0.750" stop-color="#fff" stop-opacity="0.000"/><stop offset="0.833" stop-color="#fff" stop-opacity="0.000"/><stop offset="0.917" stop-color="#fff" stop-opacity="0.000"/><stop offset="1.000" stop-color="#fff" stop-opacity="0.000"/></radialGradient><radialGradient id="gb51" gradientUnits="userSpaceOnUse" cx="246.25" cy="261.65" r="200"><stop offset="0.000" stop-color="#fff" stop-opacity="0.997"/><stop offset="0.083" stop-color="#fff" stop-opacity="0.993"/><stop offset="0.167" stop-color="#fff" stop-opacity="0.917"/><stop offset="0.250" stop-color="#fff" stop-opacity="0.723"/><stop offset="0.333" stop-color="#fff" stop-opacity="0.463"/><stop offset="0.417" stop-color="#fff" stop-opacity="0.230"/><stop offset="0.500" stop-color="#fff" stop-opacity="0.085"/><stop offset="0.583" stop-color="#fff" stop-opacity="0.021"/><stop offset="0.667" stop-color="#fff" stop-opacity="0.002"/><stop offset="0.750" stop-color="#fff" stop-opacity="0.000"/><stop offset="0.833" stop-color="#fff" stop-opacity="0.000"/><stop offset="0.917" stop-color="#fff" stop-opacity="0.000"/><stop offset="1.000" stop-color="#fff" stop-opacity="0.000"/></radialGradient><radialGradient id="gb52" gradientUnits="userSpaceOnUse" cx="246.25" cy="261.65" r="200"><stop offset="0.000" stop-color="#fff" stop-opacity="0.997"/><stop offset="0.083" stop-color="#fff" stop-opacity="0.993"/><stop offset="0.167" stop-color="#fff" stop-opacity="0.914"/><stop offset="0.250" stop-color="#fff" stop-opacity="0.714"/><stop offset="0.333" stop-color="#fff" stop-opacity="0.449"/><stop offset="0.417" stop-color="#fff" stop-opacity="0.217"/><stop offset="0.500" stop-color="#fff" stop-opacity="0.077"/><stop offset="0.583" stop-color="#fff" stop-opacity="0.018"/><stop offset="0.667" stop-color="#fff" stop-opacity="0.001"/><stop offset="0.750" stop-color="#fff" stop-opacity="0.000"/><stop offset="0.833" stop-color="#fff" stop-opacity="0.000"/><stop offset="0.917" stop-color="#fff" stop-opacity="0.000"/><stop offset="1.000" stop-color="#fff" stop-opacity="0.000"/></radialGradient><radialGradient id="gb53" gradientUnits="userSpaceOnUse" cx="246.25" cy="261.65" r="200"><stop offset="0.000" stop-color="#fff" stop-opacity="0.997"/><stop offset="0.083" stop-color="#fff" stop-opacity="0.993"/><stop offset="0.167" stop-color="#fff" stop-opacity="0.911"/><stop offset="0.250" stop-color="#fff" stop-opacity="0.704"/><stop offset="0.333" stop-color="#fff" stop-opacity="0.434"/><stop offset="0.417" stop-color="#fff" stop-opacity="0.204"/><stop offset="0.500" stop-color="#fff" stop-opacity="0.069"/><stop offset="0.583" stop-color="#fff" stop-opacity="0.015"/><stop offset="0.667" stop-color="#fff" stop-opacity="0.000"/><stop offset="0.750" stop-color="#fff" stop-opacity="0.000"/><stop offset="0.833" stop-color="#fff" stop-opacity="0.000"/><stop offset="0.917" stop-color="#fff" stop-opacity="0.000"/><stop offset="1.000" stop-color="#fff" stop-opacity="0.000"/></radialGradient><radialGradient id="gb54" gradientUnits="userSpaceOnUse" cx="246.25" cy="261.65" r="200"><stop offset="0.000" stop-color="#fff" stop-opacity="0.997"/><stop offset="0.083" stop-color="#fff" stop-opacity="0.993"/><stop offset="0.167" stop-color="#fff" stop-opacity="0.908"/><stop offset="0.250" stop-color="#fff" stop-opacity="0.694"/><stop offset="0.333" stop-color="#fff" stop-opacity="0.420"/><stop offset="0.417" stop-color="#fff" stop-opacity="0.191"/><stop offset="0.500" stop-color="#fff" stop-opacity="0.062"/><stop offset="0.583" stop-color="#fff" stop-opacity="0.012"/><stop offset="0.667" stop-color="#fff" stop-opacity="0.000"/><stop offset="0.750" stop-color="#fff" stop-opacity="0.000"/><stop offset="0.833" stop-color="#fff" stop-opacity="0.000"/><stop offset="0.917" stop-color="#fff" stop-opacity="0.000"/><stop offset="1.000" stop-color="#fff" stop-opacity="0.000"/></radialGradient><radialGradient id="gb55" gradientUnits="userSpaceOnUse" cx="246.25" cy="261.65" r="200"><stop offset="0.000" stop-color="#fff" stop-opacity="0.997"/><stop offset="0.083" stop-color="#fff" stop-opacity="0.993"/><stop offset="0.167" stop-color="#fff" stop-opacity="0.904"/><stop offset="0.250" stop-color="#fff" stop-opacity="0.684"/><stop offset="0.333" stop-color="#fff" stop-opacity="0.405"/><stop offset="0.417" stop-color="#fff" stop-opacity="0.178"/><stop offset="0.500" stop-color="#fff" stop-opacity="0.055"/><stop offset="0.583" stop-color="#fff" stop-opacity="0.010"/><stop offset="0.667" stop-color="#fff" stop-opacity="0.000"/><stop offset="0.750" stop-color="#fff" stop-opacity="0.000"/><stop offset="0.833" stop-color="#fff" stop-opacity="0.000"/><stop offset="0.917" stop-color="#fff" stop-opacity="0.000"/><stop offset="1.000" stop-color="#fff" stop-opacity="0.000"/></radialGradient><radialGradient id="gb56" gradientUnits="userSpaceOnUse" cx="246.25" cy="261.65" r="200"><stop offset="0.000" stop-color="#fff" stop-opacity="0.997"/><stop offset="0.083" stop-color="#fff" stop-opacity="0.993"/><stop offset="0.167" stop-color="#fff" stop-opacity="0.901"/><stop offset="0.250" stop-color="#fff" stop-opacity="0.676"/><stop offset="0.333" stop-color="#fff" stop-opacity="0.394"/><stop offset="0.417" stop-color="#fff" stop-opacity="0.169"/><stop offset="0.500" stop-color="#fff" stop-opacity="0.050"/><stop offset="0.583" stop-color="#fff" stop-opacity="0.008"/><stop offset="0.667" stop-color="#fff" stop-opacity="0.000"/><stop offset="0.750" stop-color="#fff" stop-opacity="0.000"/><stop offset="0.833" stop-color="#fff" stop-opacity="0.000"/><stop offset="0.917" stop-color="#fff" stop-opacity="0.000"/><stop offset="1.000" stop-color="#fff" stop-opacity="0.000"/></radialGradient><radialGradient id="gs0c0" gradientUnits="userSpaceOnUse" cx="246.25" cy="261.65" r="200"><stop offset="0.000" stop-color="#fff" stop-opacity="0.297"/><stop offset="0.083" stop-color="#fff" stop-opacity="0.296"/><stop offset="0.167" stop-color="#fff" stop-opacity="0.268"/><stop offset="0.250" stop-color="#fff" stop-opacity="0.199"/><stop offset="0.333" stop-color="#fff" stop-opacity="0.114"/><stop offset="0.417" stop-color="#fff" stop-opacity="0.047"/><stop offset="0.500" stop-color="#fff" stop-opacity="0.012"/><stop offset="0.583" stop-color="#fff" stop-opacity="0.000"/><stop offset="0.667" stop-color="#fff" stop-opacity="0.000"/><stop offset="0.750" stop-color="#fff" stop-opacity="0.000"/><stop offset="0.833" stop-color="#fff" stop-opacity="0.000"/><stop offset="0.917" stop-color="#fff" stop-opacity="0.000"/><stop offset="1.000" stop-color="#fff" stop-opacity="0.000"/></radialGradient><radialGradient id="gs1c0" gradientUnits="userSpaceOnUse" cx="246.25" cy="261.65" r="200"><stop offset="0.000" stop-color="#fff" stop-opacity="0.497"/><stop offset="0.083" stop-color="#fff" stop-opacity="0.495"/><stop offset="0.167" stop-color="#fff" stop-opacity="0.454"/><stop offset="0.250" stop-color="#fff" stop-opacity="0.349"/><stop offset="0.333" stop-color="#fff" stop-opacity="0.214"/><stop offset="0.417" stop-color="#fff" stop-opacity="0.099"/><stop offset="0.500" stop-color="#fff" stop-opacity="0.032"/><stop offset="0.583" stop-color="#fff" stop-opacity="0.006"/><stop offset="0.667" stop-color="#fff" stop-opacity="0.000"/><stop offset="0.750" stop-color="#fff" stop-opacity="0.000"/><stop offset="0.833" stop-color="#fff" stop-opacity="0.000"/><stop offset="0.917" stop-color="#fff" stop-opacity="0.000"/><stop offset="1.000" stop-color="#fff" stop-opacity="0.000"/></radialGradient><radialGradient id="gs2c0" gradientUnits="userSpaceOnUse" cx="246.25" cy="261.65" r="200"><stop offset="0.000" stop-color="#fff" stop-opacity="0.397"/><stop offset="0.083" stop-color="#fff" stop-opacity="0.396"/><stop offset="0.167" stop-color="#fff" stop-opacity="0.369"/><stop offset="0.250" stop-color="#fff" stop-opacity="0.300"/><stop offset="0.333" stop-color="#fff" stop-opacity="0.203"/><stop offset="0.417" stop-color="#fff" stop-opacity="0.110"/><stop offset="0.500" stop-color="#fff" stop-opacity="0.045"/><stop offset="0.583" stop-color="#fff" stop-opacity="0.013"/><stop offset="0.667" stop-color="#fff" stop-opacity="0.001"/><stop offset="0.750" stop-color="#fff" stop-opacity="0.000"/><stop offset="0.833" stop-color="#fff" stop-opacity="0.000"/><stop offset="0.917" stop-color="#fff" stop-opacity="0.000"/><stop offset="1.000" stop-color="#fff" stop-opacity="0.000"/></radialGradient><radialGradient id="gs3c0" gradientUnits="userSpaceOnUse" cx="246.25" cy="261.65" r="200"><stop offset="0.000" stop-color="#fff" stop-opacity="0.797"/><stop offset="0.083" stop-color="#fff" stop-opacity="0.793"/><stop offset="0.167" stop-color="#fff" stop-opacity="0.719"/><stop offset="0.250" stop-color="#fff" stop-opacity="0.536"/><stop offset="0.333" stop-color="#fff" stop-opacity="0.308"/><stop offset="0.417" stop-color="#fff" stop-opacity="0.130"/><stop offset="0.500" stop-color="#fff" stop-opacity="0.037"/><stop offset="0.583" stop-color="#fff" stop-opacity="0.005"/><stop offset="0.667" stop-color="#fff" stop-opacity="0.000"/><stop offset="0.750" stop-color="#fff" stop-opacity="0.000"/><stop offset="0.833" stop-color="#fff" stop-opacity="0.000"/><stop offset="0.917" stop-color="#fff" stop-opacity="0.000"/><stop offset="1.000" stop-color="#fff" stop-opacity="0.000"/></radialGradient><radialGradient id="gs0c1" gradientUnits="userSpaceOnUse" cx="246.25" cy="261.65" r="200"><stop offset="0.000" stop-color="#fff" stop-opacity="0.297"/><stop offset="0.083" stop-color="#fff" stop-opacity="0.296"/><stop offset="0.167" stop-color="#fff" stop-opacity="0.278"/><stop offset="0.250" stop-color="#fff" stop-opacity="0.231"/><stop offset="0.333" stop-color="#fff" stop-opacity="0.163"/><stop offset="0.417" stop-color="#fff" stop-opacity="0.095"/><stop offset="0.500" stop-color="#fff" stop-opacity="0.043"/><stop offset="0.583" stop-color="#fff" stop-opacity="0.014"/><stop offset="0.667" stop-color="#fff" stop-opacity="0.002"/><stop offset="0.750" stop-color="#fff" stop-opacity="0.000"/><stop offset="0.833" stop-color="#fff" stop-opacity="0.000"/><stop offset="0.917" stop-color="#fff" stop-opacity="0.000"/><stop offset="1.000" stop-color="#fff" stop-opacity="0.000"/></radialGradient><radialGradient id="gs1c1" gradientUnits="userSpaceOnUse" cx="246.25" cy="261.65" r="200"><stop offset="0.000" stop-color="#fff" stop-opacity="0.497"/><stop offset="0.083" stop-color="#fff" stop-opacity="0.496"/><stop offset="0.167" stop-color="#fff" stop-opacity="0.469"/><stop offset="0.250" stop-color="#fff" stop-opacity="0.399"/><stop offset="0.333" stop-color="#fff" stop-opacity="0.294"/><stop offset="0.417" stop-color="#fff" stop-opacity="0.182"/><stop offset="0.500" stop-color="#fff" stop-opacity="0.092"/><stop offset="0.583" stop-color="#fff" stop-opacity="0.037"/><stop offset="0.667" stop-color="#fff" stop-opacity="0.010"/><stop offset="0.750" stop-color="#fff" stop-opacity="0.000"/><stop offset="0.833" stop-color="#fff" stop-opacity="0.000"/><stop offset="0.917" stop-color="#fff" stop-opacity="0.000"/><stop offset="1.000" stop-color="#fff" stop-opacity="0.000"/></radialGradient><radialGradient id="gs2c1" gradientUnits="userSpaceOnUse" cx="246.25" cy="261.65" r="200"><stop offset="0.000" stop-color="#fff" stop-opacity="0.397"/><stop offset="0.083" stop-color="#fff" stop-opacity="0.396"/><stop offset="0.167" stop-color="#fff" stop-opacity="0.379"/><stop offset="0.250" stop-color="#fff" stop-opacity="0.333"/><stop offset="0.333" stop-color="#fff" stop-opacity="0.261"/><stop offset="0.417" stop-color="#fff" stop-opacity="0.178"/><stop offset="0.500" stop-color="#fff" stop-opacity="0.104"/><stop offset="0.583" stop-color="#fff" stop-opacity="0.050"/><stop offset="0.667" stop-color="#fff" stop-opacity="0.019"/><stop offset="0.750" stop-color="#fff" stop-opacity="0.004"/><stop offset="0.833" stop-color="#fff" stop-opacity="0.000"/><stop offset="0.917" stop-color="#fff" stop-opacity="0.000"/><stop offset="1.000" stop-color="#fff" stop-opacity="0.000"/></radialGradient><radialGradient id="gs3c1" gradientUnits="userSpaceOnUse" cx="246.25" cy="261.65" r="200"><stop offset="0.000" stop-color="#fff" stop-opacity="0.797"/><stop offset="0.083" stop-color="#fff" stop-opacity="0.795"/><stop offset="0.167" stop-color="#fff" stop-opacity="0.747"/><stop offset="0.250" stop-color="#fff" stop-opacity="0.622"/><stop offset="0.333" stop-color="#fff" stop-opacity="0.441"/><stop offset="0.417" stop-color="#fff" stop-opacity="0.257"/><stop offset="0.500" stop-color="#fff" stop-opacity="0.120"/><stop offset="0.583" stop-color="#fff" stop-opacity="0.043"/><stop offset="0.667" stop-color="#fff" stop-opacity="0.010"/><stop offset="0.750" stop-color="#fff" stop-opacity="0.000"/><stop offset="0.833" stop-color="#fff" stop-opacity="0.000"/><stop offset="0.917" stop-color="#fff" stop-opacity="0.000"/><stop offset="1.000" stop-color="#fff" stop-opacity="0.000"/></radialGradient><radialGradient id="gs0c2" gradientUnits="userSpaceOnUse" cx="246.25" cy="261.65" r="200"><stop offset="0.000" stop-color="#fff" stop-opacity="0.297"/><stop offset="0.083" stop-color="#fff" stop-opacity="0.296"/><stop offset="0.167" stop-color="#fff" stop-opacity="0.284"/><stop offset="0.250" stop-color="#fff" stop-opacity="0.251"/><stop offset="0.333" stop-color="#fff" stop-opacity="0.199"/><stop offset="0.417" stop-color="#fff" stop-opacity="0.138"/><stop offset="0.500" stop-color="#fff" stop-opacity="0.082"/><stop offset="0.583" stop-color="#fff" stop-opacity="0.041"/><stop offset="0.667" stop-color="#fff" stop-opacity="0.016"/><stop offset="0.750" stop-color="#fff" stop-opacity="0.004"/><stop offset="0.833" stop-color="#fff" stop-opacity="0.000"/><stop offset="0.917" stop-color="#fff" stop-opacity="0.000"/><stop offset="1.000" stop-color="#fff" stop-opacity="0.000"/></radialGradient><radialGradient id="gs1c2" gradientUnits="userSpaceOnUse" cx="246.25" cy="261.65" r="200"><stop offset="0.000" stop-color="#fff" stop-opacity="0.497"/><stop offset="0.083" stop-color="#fff" stop-opacity="0.496"/><stop offset="0.167" stop-color="#fff" stop-opacity="0.478"/><stop offset="0.250" stop-color="#fff" stop-opacity="0.429"/><stop offset="0.333" stop-color="#fff" stop-opacity="0.349"/><stop offset="0.417" stop-color="#fff" stop-opacity="0.253"/><stop offset="0.500" stop-color="#fff" stop-opacity="0.161"/><stop offset="0.583" stop-color="#fff" stop-opacity="0.088"/><stop offset="0.667" stop-color="#fff" stop-opacity="0.040"/><stop offset="0.750" stop-color="#fff" stop-opacity="0.014"/><stop offset="0.833" stop-color="#fff" stop-opacity="0.003"/><stop offset="0.917" stop-color="#fff" stop-opacity="0.000"/><stop offset="1.000" stop-color="#fff" stop-opacity="0.000"/></radialGradient><radialGradient id="gs2c2" gradientUnits="userSpaceOnUse" cx="246.25" cy="261.65" r="200"><stop offset="0.000" stop-color="#fff" stop-opacity="0.397"/><stop offset="0.083" stop-color="#fff" stop-opacity="0.396"/><stop offset="0.167" stop-color="#fff" stop-opacity="0.385"/><stop offset="0.250" stop-color="#fff" stop-opacity="0.353"/><stop offset="0.333" stop-color="#fff" stop-opacity="0.299"/><stop offset="0.417" stop-color="#fff" stop-opacity="0.232"/><stop offset="0.500" stop-color="#fff" stop-opacity="0.161"/><stop offset="0.583" stop-color="#fff" stop-opacity="0.100"/><stop offset="0.667" stop-color="#fff" stop-opacity="0.054"/><stop offset="0.750" stop-color="#fff" stop-opacity="0.024"/><stop offset="0.833" stop-color="#fff" stop-opacity="0.008"/><stop offset="0.917" stop-color="#fff" stop-opacity="0.001"/><stop offset="1.000" stop-color="#fff" stop-opacity="0.000"/></radialGradient><radialGradient id="gs3c2" gradientUnits="userSpaceOnUse" cx="246.25" cy="261.65" r="200"><stop offset="0.000" stop-color="#fff" stop-opacity="0.797"/><stop offset="0.083" stop-color="#fff" stop-opacity="0.795"/><stop offset="0.167" stop-color="#fff" stop-opacity="0.763"/><stop offset="0.250" stop-color="#fff" stop-opacity="0.675"/><stop offset="0.333" stop-color="#fff" stop-opacity="0.535"/><stop offset="0.417" stop-color="#fff" stop-opacity="0.373"/><stop offset="0.500" stop-color="#fff" stop-opacity="0.223"/><stop offset="0.583" stop-color="#fff" stop-opacity="0.113"/><stop offset="0.667" stop-color="#fff" stop-opacity="0.047"/><stop offset="0.750" stop-color="#fff" stop-opacity="0.015"/><stop offset="0.833" stop-color="#fff" stop-opacity="0.002"/><stop offset="0.917" stop-color="#fff" stop-opacity="0.000"/><stop offset="1.000" stop-color="#fff" stop-opacity="0.000"/></radialGradient><radialGradient id="gd" gradientUnits="userSpaceOnUse" cx="246.25" cy="261.65" r="200"><stop offset="0.000" stop-color="#000" stop-opacity="0.000"/><stop offset="0.062" stop-color="#000" stop-opacity="0.110"/><stop offset="0.125" stop-color="#000" stop-opacity="0.220"/><stop offset="0.188" stop-color="#000" stop-opacity="0.220"/><stop offset="0.250" stop-color="#000" stop-opacity="0.220"/><stop offset="0.312" stop-color="#000" stop-opacity="0.220"/><stop offset="0.375" stop-color="#000" stop-opacity="0.220"/><stop offset="0.438" stop-color="#000" stop-opacity="0.220"/><stop offset="0.500" stop-color="#000" stop-opacity="0.174"/><stop offset="0.562" stop-color="#000" stop-opacity="0.111"/><stop offset="0.625" stop-color="#000" stop-opacity="0.065"/><stop offset="0.688" stop-color="#000" stop-opacity="0.035"/><stop offset="0.750" stop-color="#000" stop-opacity="0.017"/><stop offset="0.812" stop-color="#000" stop-opacity="0.007"/><stop offset="0.875" stop-color="#000" stop-opacity="0.003"/><stop offset="0.938" stop-color="#000" stop-opacity="0.001"/><stop offset="1.000" stop-color="#000" stop-opacity="0.000"/></radialGradient></defs><g clip-path="url(#cpL)"><path d="M246.2 261.6L161.7 442.9A200 200 0 0 0 177.8 449.6Z" fill="url(#gb0)" shape-rendering="crispEdges"/><path d="M246.2 261.6L177.8 449.6A200 200 0 0 0 194.5 454.8Z" fill="url(#gb1)" shape-rendering="crispEdges"/><path d="M246.2 261.6L194.5 454.8A200 200 0 0 0 211.5 458.6Z" fill="url(#gb2)" shape-rendering="crispEdges"/><path d="M246.2 261.6L211.5 458.6A200 200 0 0 0 228.8 460.9Z" fill="url(#gb3)" shape-rendering="crispEdges"/><path d="M246.2 261.6L228.8 460.9A200 200 0 0 0 246.2 461.6Z" fill="url(#gb4)" shape-rendering="crispEdges"/><path d="M246.2 261.6L246.2 461.6A200 200 0 0 0 263.7 460.9Z" fill="url(#gb5)" shape-rendering="crispEdges"/><path d="M246.2 261.6L263.7 460.9A200 200 0 0 0 281.0 458.6Z" fill="url(#gb6)" shape-rendering="crispEdges"/><path d="M246.2 261.6L281.0 458.6A200 200 0 0 0 298.0 454.8Z" fill="url(#gb7)" shape-rendering="crispEdges"/><path d="M246.2 261.6L298.0 454.8A200 200 0 0 0 314.7 449.6Z" fill="url(#gb8)" shape-rendering="crispEdges"/><path d="M246.2 261.6L314.7 449.6A200 200 0 0 0 330.8 442.9Z" fill="url(#gb9)" shape-rendering="crispEdges"/><path d="M246.2 261.6L330.8 442.9A200 200 0 0 0 346.2 434.9Z" fill="url(#gb10)" shape-rendering="crispEdges"/><path d="M246.2 261.6L346.2 434.9A200 200 0 0 0 361.0 425.5Z" fill="url(#gb11)" shape-rendering="crispEdges"/><path d="M246.2 261.6L361.0 425.5A200 200 0 0 0 374.8 414.9Z" fill="url(#gb12)" shape-rendering="crispEdges"/><path d="M246.2 261.6L374.8 414.9A200 200 0 0 0 387.7 403.1Z" fill="url(#gb13)" shape-rendering="crispEdges"/><path d="M246.2 261.6L387.7 403.1A200 200 0 0 0 399.5 390.2Z" fill="url(#gb14)" shape-rendering="crispEdges"/><path d="M246.2 261.6L399.5 390.2A200 200 0 0 0 410.1 376.4Z" fill="url(#gb15)" shape-rendering="crispEdges"/><path d="M246.2 261.6L410.1 376.4A200 200 0 0 0 419.5 361.6Z" fill="url(#gb16)" shape-rendering="crispEdges"/><path d="M246.2 261.6L419.5 361.6A200 200 0 0 0 427.5 346.2Z" fill="url(#gb17)" shape-rendering="crispEdges"/><path d="M246.2 261.6L427.5 346.2A200 200 0 0 0 434.2 330.1Z" fill="url(#gb18)" shape-rendering="crispEdges"/><path d="M246.2 261.6L434.2 330.1A200 200 0 0 0 439.4 313.4Z" fill="url(#gb19)" shape-rendering="crispEdges"/><path d="M246.2 261.6L439.4 313.4A200 200 0 0 0 443.2 296.4Z" fill="url(#gb20)" shape-rendering="crispEdges"/><path d="M246.2 261.6L443.2 296.4A200 200 0 0 0 445.5 279.1Z" fill="url(#gb21)" shape-rendering="crispEdges"/><path d="M246.2 261.6L445.5 279.1A200 200 0 0 0 446.2 261.6Z" fill="url(#gb22)" shape-rendering="crispEdges"/><path d="M246.2 261.6L446.2 261.6A200 200 0 0 0 445.5 244.2Z" fill="url(#gb23)" shape-rendering="crispEdges"/><path d="M246.2 261.6L445.5 244.2A200 200 0 0 0 443.2 226.9Z" fill="url(#gb24)" shape-rendering="crispEdges"/><path d="M246.2 261.6L443.2 226.9A200 200 0 0 0 439.4 209.9Z" fill="url(#gb25)" shape-rendering="crispEdges"/><path d="M246.2 261.6L439.4 209.9A200 200 0 0 0 434.2 193.2Z" fill="url(#gb26)" shape-rendering="crispEdges"/><path d="M246.2 261.6L434.2 193.2A200 200 0 0 0 427.5 177.1Z" fill="url(#gb27)" shape-rendering="crispEdges"/><path d="M246.2 261.6L427.5 177.1A200 200 0 0 0 419.5 161.6Z" fill="url(#gb28)" shape-rendering="crispEdges"/><path d="M246.2 261.6L419.5 161.6A200 200 0 0 0 410.1 146.9Z" fill="url(#gb29)" shape-rendering="crispEdges"/><path d="M246.2 261.6L410.1 146.9A200 200 0 0 0 399.5 133.1Z" fill="url(#gb30)" shape-rendering="crispEdges"/><path d="M246.2 261.6L399.5 133.1A200 200 0 0 0 387.7 120.2Z" fill="url(#gb31)" shape-rendering="crispEdges"/><path d="M246.2 261.6L387.7 120.2A200 200 0 0 0 374.8 108.4Z" fill="url(#gb32)" shape-rendering="crispEdges"/><path d="M246.2 261.6L374.8 108.4A200 200 0 0 0 361.0 97.8Z" fill="url(#gb33)" shape-rendering="crispEdges"/><path d="M246.2 261.6L361.0 97.8A200 200 0 0 0 346.2 88.4Z" fill="url(#gb34)" shape-rendering="crispEdges"/><path d="M246.2 261.6L346.2 88.4A200 200 0 0 0 330.8 80.4Z" fill="url(#gb35)" shape-rendering="crispEdges"/><path d="M246.2 261.6L330.8 80.4A200 200 0 0 0 314.7 73.7Z" fill="url(#gb36)" shape-rendering="crispEdges"/><path d="M246.2 261.6L314.7 73.7A200 200 0 0 0 298.0 68.5Z" fill="url(#gb37)" shape-rendering="crispEdges"/><path d="M246.2 261.6L298.0 68.5A200 200 0 0 0 281.0 64.7Z" fill="url(#gb38)" shape-rendering="crispEdges"/><path d="M246.2 261.6L281.0 64.7A200 200 0 0 0 263.7 62.4Z" fill="url(#gb39)" shape-rendering="crispEdges"/><path d="M246.2 261.6L263.7 62.4A200 200 0 0 0 246.2 61.6Z" fill="url(#gb40)" shape-rendering="crispEdges"/><path d="M246.2 261.6L246.2 61.6A200 200 0 0 0 228.8 62.4Z" fill="url(#gb41)" shape-rendering="crispEdges"/><path d="M246.2 261.6L228.8 62.4A200 200 0 0 0 211.5 64.7Z" fill="url(#gb42)" shape-rendering="crispEdges"/><path d="M246.2 261.6L211.5 64.7A200 200 0 0 0 194.5 68.5Z" fill="url(#gb43)" shape-rendering="crispEdges"/><path d="M246.2 261.6L194.5 68.5A200 200 0 0 0 177.8 73.7Z" fill="url(#gb44)" shape-rendering="crispEdges"/><path d="M246.2 261.6L177.8 73.7A200 200 0 0 0 161.7 80.4Z" fill="url(#gb45)" shape-rendering="crispEdges"/><path d="M246.2 261.6L161.7 80.4A200 200 0 0 0 146.3 88.4Z" fill="url(#gb46)" shape-rendering="crispEdges"/><path d="M246.2 261.6L146.3 88.4A200 200 0 0 0 131.5 97.8Z" fill="url(#gb47)" shape-rendering="crispEdges"/><path d="M246.2 261.6L131.5 97.8A200 200 0 0 0 117.7 108.4Z" fill="url(#gb48)" shape-rendering="crispEdges"/><path d="M246.2 261.6L117.7 108.4A200 200 0 0 0 104.8 120.2Z" fill="url(#gb49)" shape-rendering="crispEdges"/><path d="M246.2 261.6L104.8 120.2A200 200 0 0 0 95.3 130.4Z" fill="url(#gb50)" shape-rendering="crispEdges"/><path d="M246.2 261.6L46.4 254.7A200 200 0 0 0 46.5 272.1Z" fill="url(#gb51)" shape-rendering="crispEdges"/><path d="M246.2 261.6L46.5 272.1A200 200 0 0 0 48.2 289.5Z" fill="url(#gb52)" shape-rendering="crispEdges"/><path d="M246.2 261.6L48.2 289.5A200 200 0 0 0 51.4 306.6Z" fill="url(#gb53)" shape-rendering="crispEdges"/><path d="M246.2 261.6L51.4 306.6A200 200 0 0 0 56.0 323.5Z" fill="url(#gb54)" shape-rendering="crispEdges"/><path d="M246.2 261.6L56.0 323.5A200 200 0 0 0 62.1 339.8Z" fill="url(#gb55)" shape-rendering="crispEdges"/><path d="M246.2 261.6L62.1 339.8A200 200 0 0 0 65.0 346.2Z" fill="url(#gb56)" shape-rendering="crispEdges"/><path d="M246.2 261.6L174.6 448.4A200 200 0 0 0 187.8 452.9Z" fill="url(#gs3c1)"/><path d="M246.2 261.6L187.8 452.9A200 200 0 0 0 194.5 454.8Z" fill="url(#gs3c1)"/><path d="M246.2 261.6L210.8 393.8A136.79999999999998 136.79999999999998 0 0 0 220.1 395.9Z" fill="url(#gd)"/><path d="M246.2 261.6L208.1 458.0A200 200 0 0 0 215.0 459.2Z" fill="url(#gs1c1)"/><path d="M246.2 261.6L215.0 459.2A200 200 0 0 0 221.9 460.2Z" fill="url(#gs0c1)"/><path d="M246.2 261.6L241.5 398.4A136.79999999999998 136.79999999999998 0 0 0 251.0 398.4Z" fill="url(#gd)"/><path d="M246.2 261.6L251.0 398.4A136.79999999999998 136.79999999999998 0 0 0 262.9 397.4Z" fill="url(#gd)"/><path d="M246.2 261.6L270.6 460.2A200 200 0 0 0 287.8 457.3Z" fill="url(#gs3c1)"/><path d="M246.2 261.6L287.8 457.3A200 200 0 0 0 292.9 456.1Z" fill="url(#gs0c1)"/><path d="M246.2 261.6L278.2 394.7A136.79999999999998 136.79999999999998 0 0 0 282.8 393.5Z" fill="url(#gd)"/><path d="M246.2 261.6L299.7 454.4A200 200 0 0 0 313.0 450.2Z" fill="url(#gs3c1)"/><path d="M246.2 261.6L291.9 390.6A136.79999999999998 136.79999999999998 0 0 0 296.4 388.9Z" fill="url(#gd)"/><path d="M246.2 261.6L319.6 447.7A200 200 0 0 0 329.2 443.6Z" fill="url(#gs0c1)"/><path d="M246.2 261.6L303.0 386.1A136.79999999999998 136.79999999999998 0 0 0 311.5 381.9Z" fill="url(#gd)"/><path d="M246.2 261.6L319.9 377.2A137.0375 137.0375 0 0 0 322.9 375.3Z" fill="url(#gd)"/><path d="M246.2 261.6L366.6 421.4A200 200 0 0 0 380.1 410.3Z" fill="url(#gs0c1)"/><path d="M246.2 261.6L392.5 398.0A200 200 0 0 0 401.7 387.5Z" fill="url(#gs1c1)"/><path d="M246.2 261.6L401.7 387.5A200 200 0 0 0 410.1 376.4Z" fill="url(#gs0c1)"/><path d="M246.2 261.6L410.1 376.4A200 200 0 0 0 413.0 372.0Z" fill="url(#gs0c1)"/><path d="M246.2 261.6L413.0 372.0A200 200 0 0 0 420.3 360.1Z" fill="url(#gs2c1)"/><path d="M246.2 261.6L420.3 360.1A200 200 0 0 0 426.8 347.8Z" fill="url(#gs0c1)"/><path d="M246.2 261.6L426.8 347.8A200 200 0 0 0 431.0 338.2Z" fill="url(#gs1c1)"/><path d="M246.2 261.6L431.0 338.2A200 200 0 0 0 434.8 328.4Z" fill="url(#gs2c1)"/><path d="M246.2 261.6L434.8 328.4A200 200 0 0 0 436.5 323.5Z" fill="url(#gs0c1)"/><path d="M246.2 261.6L436.5 323.5A200 200 0 0 0 438.0 318.5Z" fill="url(#gs2c1)"/><path d="M246.2 261.6L381.1 301.6A140.6 140.6 0 0 0 382.4 296.9Z" fill="url(#gd)"/><path d="M246.2 261.6L439.9 311.7A200 200 0 0 0 441.5 304.9Z" fill="url(#gs0c1)"/><path d="M246.2 261.6L441.5 304.9A200 200 0 0 0 442.9 298.1Z" fill="url(#gs2c1)"/><path d="M246.2 261.6L442.9 298.1A200 200 0 0 0 443.8 292.9Z" fill="url(#gs0c1)"/><path d="M246.2 261.6L443.8 292.9A200 200 0 0 0 444.5 287.8Z" fill="url(#gs3c1)"/><path d="M246.2 261.6L445.6 277.3A200 200 0 0 0 446.0 272.1Z" fill="url(#gs2c1)"/><path d="M246.2 261.6L386.7 269.0A140.6 140.6 0 0 0 386.8 256.7Z" fill="url(#gd)"/><path d="M246.2 261.6L446.1 254.7A200 200 0 0 0 445.9 249.4Z" fill="url(#gs0c1)"/><path d="M246.2 261.6L445.9 249.4A200 200 0 0 0 445.3 242.5Z" fill="url(#gs0c1)"/><path d="M246.2 261.6L445.3 242.5A200 200 0 0 0 442.9 225.2Z" fill="url(#gs1c1)"/><path d="M246.2 261.6L442.9 225.2A200 200 0 0 0 439.9 211.6Z" fill="url(#gs0c1)"/><path d="M246.2 261.6L375.5 228.2A133.54285714285714 133.54285714285714 0 0 0 374.3 223.7Z" fill="url(#gd)"/><path d="M246.2 261.6L438.0 204.8A200 200 0 0 0 435.9 198.2Z" fill="url(#gs1c1)"/><path d="M246.2 261.6L368.8 220.7A129.2 129.2 0 0 0 366.5 214.3Z" fill="url(#gd)"/><path d="M246.2 261.6L349.9 203.0A119.06666666666666 119.06666666666666 0 0 0 347.8 199.4Z" fill="url(#gd)"/><path d="M246.2 261.6L411.1 148.4A200 200 0 0 0 400.6 134.4Z" fill="url(#gs0c0)"/><path d="M246.2 261.6L396.0 129.1A200 200 0 0 0 383.9 116.6Z" fill="url(#gs2c0)"/><path d="M246.2 261.6L324.4 179.3A113.56818181818181 113.56818181818181 0 0 0 318.5 174.0Z" fill="url(#gd)"/><path d="M246.2 261.6L373.5 107.3A200 200 0 0 0 362.4 98.8Z" fill="url(#gs0c0)"/><path d="M246.2 261.6L314.6 165.8A117.71363636363635 117.71363636363635 0 0 0 312.1 164.1Z" fill="url(#gd)"/><path d="M246.2 261.6L358.1 95.8A200 200 0 0 0 349.3 90.2Z" fill="url(#gs2c0)"/><path d="M246.2 261.6L349.3 90.2A200 200 0 0 0 340.1 85.1Z" fill="url(#gs3c0)"/><path d="M246.2 261.6L340.1 85.1A200 200 0 0 0 327.6 78.9Z" fill="url(#gs0c0)"/><path d="M246.2 261.6L327.6 78.9A200 200 0 0 0 322.8 76.9Z" fill="url(#gs2c1)"/><path d="M246.2 261.6L297.2 138.6A133.2111111111111 133.2111111111111 0 0 0 286.3 134.6Z" fill="url(#gd)"/><path d="M246.2 261.6L289.5 124.5A143.76666666666668 143.76666666666668 0 0 0 277.4 121.3Z" fill="url(#gd)"/><path d="M246.2 261.6L289.5 66.4A200 200 0 0 0 279.3 64.4Z" fill="url(#gs0c2)"/><path d="M246.2 261.6L279.3 64.4A200 200 0 0 0 274.1 63.6Z" fill="url(#gs2c2)"/><path d="M246.2 261.6L274.1 63.6A200 200 0 0 0 260.2 62.1Z" fill="url(#gs0c2)"/><path d="M246.2 261.6L260.2 62.1A200 200 0 0 0 253.2 61.8Z" fill="url(#gs3c2)"/><path d="M246.2 261.6L235.8 61.9A200 200 0 0 0 230.6 62.3Z" fill="url(#gs2c2)"/><path d="M246.2 261.6L234.1 106.9A155.192 155.192 0 0 0 226.0 107.8Z" fill="url(#gd)"/><path d="M246.2 261.6L226.1 108.7A154.28 154.28 0 0 0 212.9 111.0Z" fill="url(#gd)"/><path d="M246.2 261.6L213.2 112.5A152.76 152.76 0 0 0 208.0 113.8Z" fill="url(#gd)"/><path d="M246.2 261.6L196.2 68.0A200 200 0 0 0 191.1 69.4Z" fill="url(#gs1c2)"/><path d="M246.2 261.6L198.2 122.2A147.43999999999997 147.43999999999997 0 0 0 194.6 123.5Z" fill="url(#gd)"/><path d="M246.2 261.6L176.2 74.3A200 200 0 0 0 171.3 76.2Z" fill="url(#gs1c2)"/><path d="M246.2 261.6L171.3 76.2A200 200 0 0 0 161.7 80.4Z" fill="url(#gs0c1)"/><path d="M246.2 261.6L161.7 80.4A200 200 0 0 0 157.0 82.7Z" fill="url(#gs1c1)"/><path d="M246.2 261.6L146.3 88.4A200 200 0 0 0 137.3 93.9Z" fill="url(#gs2c1)"/><path d="M246.2 261.6L117.7 108.4A200 200 0 0 0 104.8 120.2Z" fill="url(#gs2c1)"/><path d="M246.2 261.6L160.6 176.0A121.05714285714285 121.05714285714285 0 0 0 154.9 182.2Z" fill="url(#gd)"/><path d="M246.2 261.6L46.4 254.7A200 200 0 0 0 46.5 272.1Z" fill="url(#gs0c0)"/><path d="M246.2 261.6L51.0 304.9A200 200 0 0 0 55.5 321.8Z" fill="url(#gs2c0)"/><path d="M246.2 261.6L55.5 321.8A200 200 0 0 0 61.5 338.2Z" fill="url(#gs3c0)"/><path d="M246.2 261.6L61.5 338.2A200 200 0 0 0 63.5 343.0Z" fill="url(#gs0c0)"/><path d="M246.2 261.6L63.5 343.0A200 200 0 0 0 65.0 346.2Z" fill="url(#gs0c0)"/><path d="M246.2 261.6L238.9 282.2L248.0 289.1L254.9 300.6L261.8 309.8L268.7 319.0L273.3 328.2L277.9 337.4L287.0 341.0L292.0 360.0L305.0 351.0L333.0 346.0L375.0 342.0L430.0 348.0L440.0 460.0L96.3 521.5L-13.6 411.6Z" fill="#080808" filter="url(#bl2)"/><g filter="url(#bl)"><circle cx="246.25" cy="261.65" r="6.0" fill="none" stroke="#fff" stroke-opacity="0.11" stroke-width="2" stroke-dasharray="3 12 6 8 6 5 6 5 3 3 2 8 6 3 3 5 3 3 6 12" stroke-dashoffset="2"/><circle cx="246.25" cy="261.65" r="9.3" fill="none" stroke="#fff" stroke-opacity="0.08" stroke-width="2" stroke-dasharray="6 3 4 3 3 3 2 3 6 5 4 12 6 5 3 3 6 5 2 5" stroke-dashoffset="51"/><circle cx="246.25" cy="261.65" r="12.6" fill="none" stroke="#fff" stroke-opacity="0.06" stroke-width="2" stroke-dasharray="2 3 6 12 3 8 3 12 4 8 6 12 4 12 6 8 2 3 3 12" stroke-dashoffset="4"/><circle cx="246.25" cy="261.65" r="15.4" fill="none" stroke="#fff" stroke-opacity="0.13" stroke-width="2" stroke-dasharray="3 8 2 5 3 8 4 8 4 5 2 5 2 5 6 8 3 3 3 12" stroke-dashoffset="10"/><circle cx="246.25" cy="261.65" r="18.7" fill="none" stroke="#fff" stroke-opacity="0.09" stroke-width="2" stroke-dasharray="2 8 6 12 3 5 3 3 6 12 6 3 4 3 4 8 2 12 3 5" stroke-dashoffset="55"/><circle cx="246.25" cy="261.65" r="21.2" fill="none" stroke="#fff" stroke-opacity="0.09" stroke-width="2" stroke-dasharray="3 5 6 3 4 5 6 3 3 8 3 8 6 12 6 8 3 8 3 3" stroke-dashoffset="8"/><circle cx="246.25" cy="261.65" r="24.5" fill="none" stroke="#fff" stroke-opacity="0.07" stroke-width="2" stroke-dasharray="2 8 4 5 6 8 6 5 3 5 2 12 2 5 2 12 3 3 2 8" stroke-dashoffset="34"/><circle cx="246.25" cy="261.65" r="27.8" fill="none" stroke="#fff" stroke-opacity="0.08" stroke-width="2" stroke-dasharray="6 12 3 5 3 5 6 5 2 3 2 12 6 3 6 5 3 8 4 3" stroke-dashoffset="9"/><circle cx="246.25" cy="261.65" r="30.3" fill="none" stroke="#fff" stroke-opacity="0.11" stroke-width="2" stroke-dasharray="4 12 2 3 4 8 4 5 2 8 3 8 2 8 6 3 2 3 6 3" stroke-dashoffset="45"/><circle cx="246.25" cy="261.65" r="32.9" fill="none" stroke="#fff" stroke-opacity="0.06" stroke-width="2" stroke-dasharray="6 12 2 5 2 3 6 3 3 8 6 12 6 5 6 12 4 12 3 3" stroke-dashoffset="11"/><circle cx="246.25" cy="261.65" r="35.6" fill="none" stroke="#fff" stroke-opacity="0.11" stroke-width="2" stroke-dasharray="3 12 4 5 6 12 6 8 6 3 3 8 3 8 6 5 2 5 2 8" stroke-dashoffset="24"/><circle cx="246.25" cy="261.65" r="38.6" fill="none" stroke="#fff" stroke-opacity="0.10" stroke-width="2" stroke-dasharray="6 3 3 12 3 8 4 5 4 3 2 8 4 5 3 5 4 12 3 12" stroke-dashoffset="27"/><circle cx="246.25" cy="261.65" r="41.3" fill="none" stroke="#fff" stroke-opacity="0.14" stroke-width="2" stroke-dasharray="4 5 6 8 2 5 3 3 4 8 2 3 2 12 6 12 3 3 3 3" stroke-dashoffset="12"/><circle cx="246.25" cy="261.65" r="43.9" fill="none" stroke="#fff" stroke-opacity="0.10" stroke-width="2" stroke-dasharray="2 8 3 5 6 3 4 5 6 12 3 5 6 3 2 3 6 5 3 3" stroke-dashoffset="33"/><circle cx="246.25" cy="261.65" r="46.7" fill="none" stroke="#fff" stroke-opacity="0.06" stroke-width="2" stroke-dasharray="6 12 4 5 4 5 4 8 4 3 2 3 3 3 3 8 4 8 2 5" stroke-dashoffset="31"/><circle cx="246.25" cy="261.65" r="49.1" fill="none" stroke="#fff" stroke-opacity="0.10" stroke-width="2" stroke-dasharray="6 5 2 3 3 8 4 12 3 5 6 3 4 5 3 3 4 5 2 8" stroke-dashoffset="10"/><circle cx="246.25" cy="261.65" r="52.3" fill="none" stroke="#fff" stroke-opacity="0.08" stroke-width="2" stroke-dasharray="6 3 4 3 3 3 4 12 3 12 4 3 4 5 4 3 6 5 3 12" stroke-dashoffset="32"/><circle cx="246.25" cy="261.65" r="55.1" fill="none" stroke="#fff" stroke-opacity="0.11" stroke-width="2" stroke-dasharray="6 8 2 5 6 5 4 8 3 3 6 3 3 3 3 8 4 3 3 5" stroke-dashoffset="39"/><circle cx="246.25" cy="261.65" r="58.0" fill="none" stroke="#fff" stroke-opacity="0.14" stroke-width="2" stroke-dasharray="6 5 3 8 3 12 6 5 6 12 4 3 6 5 2 8 6 8 3 5" stroke-dashoffset="24"/><circle cx="246.25" cy="261.65" r="60.2" fill="none" stroke="#fff" stroke-opacity="0.12" stroke-width="2" stroke-dasharray="2 3 4 12 3 12 3 12 2 3 4 5 6 8 6 8 6 12 2 8" stroke-dashoffset="23"/><circle cx="246.25" cy="261.65" r="63.1" fill="none" stroke="#fff" stroke-opacity="0.13" stroke-width="2" stroke-dasharray="6 3 3 8 2 8 3 5 3 8 2 8 3 5 3 12 6 5 2 8" stroke-dashoffset="33"/><circle cx="246.25" cy="261.65" r="65.6" fill="none" stroke="#fff" stroke-opacity="0.11" stroke-width="2" stroke-dasharray="3 5 4 3 4 12 2 3 2 5 6 12 4 12 2 8 3 8 6 12" stroke-dashoffset="29"/><circle cx="246.25" cy="261.65" r="68.7" fill="none" stroke="#fff" stroke-opacity="0.08" stroke-width="2" stroke-dasharray="3 12 3 3 6 5 2 8 6 5 3 3 4 8 4 8 3 3 6 5" stroke-dashoffset="0"/><circle cx="246.25" cy="261.65" r="71.5" fill="none" stroke="#fff" stroke-opacity="0.08" stroke-width="2" stroke-dasharray="3 5 2 5 2 12 2 3 3 5 2 3 3 5 2 5 3 12 2 12" stroke-dashoffset="20"/><circle cx="246.25" cy="261.65" r="74.7" fill="none" stroke="#fff" stroke-opacity="0.13" stroke-width="2" stroke-dasharray="4 12 2 12 2 12 6 5 2 3 4 12 4 5 4 8 4 12 4 12" stroke-dashoffset="18"/><circle cx="246.25" cy="261.65" r="76.7" fill="none" stroke="#fff" stroke-opacity="0.12" stroke-width="2" stroke-dasharray="4 3 6 8 3 5 4 8 6 3 4 12 3 3 4 12 2 12 3 8" stroke-dashoffset="2"/><circle cx="246.25" cy="261.65" r="79.4" fill="none" stroke="#fff" stroke-opacity="0.08" stroke-width="2" stroke-dasharray="4 8 6 5 2 12 3 5 2 5 3 5 4 3 3 12 3 8 6 5" stroke-dashoffset="38"/><circle cx="246.25" cy="261.65" r="82.7" fill="none" stroke="#fff" stroke-opacity="0.12" stroke-width="2" stroke-dasharray="3 8 6 5 4 8 3 8 2 3 3 8 4 12 3 12 2 8 4 5" stroke-dashoffset="39"/><circle cx="246.25" cy="261.65" r="85.8" fill="none" stroke="#fff" stroke-opacity="0.07" stroke-width="2" stroke-dasharray="3 3 2 5 6 5 6 5 3 12 6 8 3 12 2 5 2 3 3 12" stroke-dashoffset="30"/><circle cx="246.25" cy="261.65" r="87.8" fill="none" stroke="#fff" stroke-opacity="0.11" stroke-width="2" stroke-dasharray="4 3 3 8 6 8 6 12 2 8 4 3 6 8 6 8 4 8 3 8" stroke-dashoffset="40"/><circle cx="246.25" cy="261.65" r="90.3" fill="none" stroke="#fff" stroke-opacity="0.07" stroke-width="2" stroke-dasharray="3 3 4 5 2 8 2 5 4 5 2 3 2 5 4 5 3 8 3 5" stroke-dashoffset="59"/><circle cx="246.25" cy="261.65" r="93.3" fill="none" stroke="#fff" stroke-opacity="0.12" stroke-width="2" stroke-dasharray="6 8 4 5 6 12 4 3 3 8 4 5 4 12 3 3 6 12 3 5" stroke-dashoffset="28"/><circle cx="246.25" cy="261.65" r="96.7" fill="none" stroke="#fff" stroke-opacity="0.07" stroke-width="2" stroke-dasharray="6 12 2 12 3 3 2 3 4 5 2 3 6 3 6 8 6 12 6 8" stroke-dashoffset="19"/><circle cx="246.25" cy="261.65" r="99.6" fill="none" stroke="#fff" stroke-opacity="0.10" stroke-width="2" stroke-dasharray="3 8 2 5 3 12 4 8 4 12 2 8 2 3 3 5 6 8 6 8" stroke-dashoffset="15"/><circle cx="246.25" cy="261.65" r="102.5" fill="none" stroke="#fff" stroke-opacity="0.07" stroke-width="2" stroke-dasharray="6 8 3 8 4 12 6 5 4 5 3 5 2 5 4 12 6 8 3 8" stroke-dashoffset="38"/><circle cx="246.25" cy="261.65" r="105.4" fill="none" stroke="#fff" stroke-opacity="0.13" stroke-width="2" stroke-dasharray="2 8 2 5 3 3 3 12 6 12 4 5 6 5 2 8 6 12 3 8" stroke-dashoffset="40"/><circle cx="246.25" cy="261.65" r="108.4" fill="none" stroke="#fff" stroke-opacity="0.09" stroke-width="2" stroke-dasharray="6 12 4 5 2 8 4 8 4 12 2 8 3 5 3 3 4 5 3 5" stroke-dashoffset="33"/><circle cx="246.25" cy="261.65" r="111.4" fill="none" stroke="#fff" stroke-opacity="0.07" stroke-width="2" stroke-dasharray="2 3 2 12 3 5 6 12 4 12 2 5 3 5 6 12 3 12 6 8" stroke-dashoffset="42"/><circle cx="246.25" cy="261.65" r="113.7" fill="none" stroke="#fff" stroke-opacity="0.13" stroke-width="2" stroke-dasharray="3 3 2 8 2 3 6 8 6 12 4 3 6 3 4 5 4 12 2 8" stroke-dashoffset="29"/><circle cx="246.25" cy="261.65" r="116.2" fill="none" stroke="#fff" stroke-opacity="0.13" stroke-width="2" stroke-dasharray="6 12 4 3 6 5 2 8 3 12 4 8 6 5 6 12 4 5 4 8" stroke-dashoffset="18"/><circle cx="246.25" cy="261.65" r="119.3" fill="none" stroke="#fff" stroke-opacity="0.09" stroke-width="2" stroke-dasharray="4 12 2 3 4 3 2 12 6 8 6 8 6 5 4 3 3 5 2 5" stroke-dashoffset="25"/><circle cx="246.25" cy="261.65" r="122.0" fill="none" stroke="#fff" stroke-opacity="0.11" stroke-width="2" stroke-dasharray="6 12 2 5 2 12 6 5 6 5 3 8 3 3 3 5 2 8 6 5" stroke-dashoffset="59"/><circle cx="246.25" cy="261.65" r="124.6" fill="none" stroke="#fff" stroke-opacity="0.12" stroke-width="2" stroke-dasharray="2 8 2 5 6 12 6 8 2 8 6 8 2 3 3 3 6 12 4 12" stroke-dashoffset="58"/><circle cx="246.25" cy="261.65" r="126.7" fill="none" stroke="#fff" stroke-opacity="0.09" stroke-width="2" stroke-dasharray="4 3 4 8 4 5 2 5 3 3 4 5 6 5 2 3 4 12 2 8" stroke-dashoffset="30"/><circle cx="246.25" cy="261.65" r="129.8" fill="none" stroke="#fff" stroke-opacity="0.13" stroke-width="2" stroke-dasharray="4 3 6 8 3 8 3 3 3 12 6 5 2 3 6 8 2 5 3 8" stroke-dashoffset="8"/><circle cx="246.25" cy="261.65" r="132.7" fill="none" stroke="#fff" stroke-opacity="0.13" stroke-width="2" stroke-dasharray="3 12 3 5 4 12 4 3 3 5 4 8 6 8 4 8 6 8 3 5" stroke-dashoffset="55"/><circle cx="246.25" cy="261.65" r="135.2" fill="none" stroke="#fff" stroke-opacity="0.11" stroke-width="2" stroke-dasharray="2 8 3 8 6 5 4 8 3 3 2 3 6 5 6 12 6 5 6 12" stroke-dashoffset="14"/><circle cx="246.25" cy="261.65" r="137.4" fill="none" stroke="#fff" stroke-opacity="0.12" stroke-width="2" stroke-dasharray="2 8 6 3 6 8 4 12 2 8 2 8 3 8 6 5 2 8 4 12" stroke-dashoffset="22"/><circle cx="246.25" cy="261.65" r="140.0" fill="none" stroke="#fff" stroke-opacity="0.09" stroke-width="2" stroke-dasharray="6 8 6 5 3 5 6 3 6 5 2 8 3 12 4 12 6 8 2 5" stroke-dashoffset="36"/><circle cx="246.25" cy="261.65" r="142.9" fill="none" stroke="#fff" stroke-opacity="0.14" stroke-width="2" stroke-dasharray="3 3 4 8 4 8 2 5 2 12 4 12 2 5 2 3 3 5 6 3" stroke-dashoffset="43"/><circle cx="246.25" cy="261.65" r="145.4" fill="none" stroke="#fff" stroke-opacity="0.08" stroke-width="2" stroke-dasharray="3 3 6 3 2 12 6 3 3 12 6 5 3 3 2 8 3 5 4 3" stroke-dashoffset="26"/><circle cx="246.25" cy="261.65" r="147.9" fill="none" stroke="#fff" stroke-opacity="0.08" stroke-width="2" stroke-dasharray="6 3 4 12 6 8 2 12 3 3 3 8 6 12 2 8 4 12 2 3" stroke-dashoffset="30"/><circle cx="246.25" cy="261.65" r="150.3" fill="none" stroke="#fff" stroke-opacity="0.12" stroke-width="2" stroke-dasharray="6 3 4 3 3 8 6 3 3 8 4 3 6 12 2 5 4 3 3 5" stroke-dashoffset="8"/><circle cx="246.25" cy="261.65" r="152.9" fill="none" stroke="#fff" stroke-opacity="0.07" stroke-width="2" stroke-dasharray="6 3 4 12 3 5 2 8 2 12 2 8 4 8 2 5 4 5 6 8" stroke-dashoffset="18"/><circle cx="246.25" cy="261.65" r="155.0" fill="none" stroke="#fff" stroke-opacity="0.07" stroke-width="2" stroke-dasharray="4 5 6 5 6 12 2 8 4 5 6 12 6 5 3 3 6 12 4 12" stroke-dashoffset="36"/><circle cx="246.25" cy="261.65" r="158.3" fill="none" stroke="#fff" stroke-opacity="0.12" stroke-width="2" stroke-dasharray="4 3 4 5 3 3 2 5 2 8 2 12 2 8 2 5 4 12 2 8" stroke-dashoffset="40"/><circle cx="246.25" cy="261.65" r="161.7" fill="none" stroke="#fff" stroke-opacity="0.13" stroke-width="2" stroke-dasharray="6 5 6 3 3 12 3 12 3 8 3 5 3 5 3 8 4 5 6 12" stroke-dashoffset="48"/><circle cx="246.25" cy="261.65" r="164.5" fill="none" stroke="#fff" stroke-opacity="0.11" stroke-width="2" stroke-dasharray="3 12 2 12 2 8 3 8 6 5 6 5 2 8 2 3 6 3 3 3" stroke-dashoffset="11"/><circle cx="246.25" cy="261.65" r="166.9" fill="none" stroke="#fff" stroke-opacity="0.13" stroke-width="2" stroke-dasharray="4 8 4 5 3 8 4 12 2 8 2 12 6 8 2 8 2 8 4 3" stroke-dashoffset="29"/><circle cx="246.25" cy="261.65" r="169.5" fill="none" stroke="#fff" stroke-opacity="0.13" stroke-width="2" stroke-dasharray="4 12 3 3 2 5 2 3 3 3 2 12 6 8 6 12 6 12 3 5" stroke-dashoffset="39"/><circle cx="246.25" cy="261.65" r="171.7" fill="none" stroke="#fff" stroke-opacity="0.10" stroke-width="2" stroke-dasharray="3 3 3 12 4 5 3 3 2 3 6 5 6 12 2 5 4 12 3 5" stroke-dashoffset="29"/><circle cx="246.25" cy="261.65" r="174.3" fill="none" stroke="#fff" stroke-opacity="0.08" stroke-width="2" stroke-dasharray="3 3 3 3 2 12 6 3 2 12 2 12 2 8 3 3 3 5 2 8" stroke-dashoffset="47"/><circle cx="246.25" cy="261.65" r="177.0" fill="none" stroke="#fff" stroke-opacity="0.10" stroke-width="2" stroke-dasharray="3 5 2 3 6 8 6 12 6 5 4 8 4 12 4 12 2 5 3 8" stroke-dashoffset="52"/><circle cx="246.25" cy="261.65" r="179.5" fill="none" stroke="#fff" stroke-opacity="0.14" stroke-width="2" stroke-dasharray="3 12 4 3 2 12 3 8 6 12 4 3 3 3 3 12 2 12 3 3" stroke-dashoffset="30"/><circle cx="246.25" cy="261.65" r="182.0" fill="none" stroke="#fff" stroke-opacity="0.10" stroke-width="2" stroke-dasharray="6 12 3 12 2 3 4 8 2 12 3 8 4 3 3 3 3 3 2 5" stroke-dashoffset="22"/><circle cx="246.25" cy="261.65" r="184.1" fill="none" stroke="#fff" stroke-opacity="0.08" stroke-width="2" stroke-dasharray="4 8 4 3 3 12 3 3 4 12 3 8 2 5 6 3 6 3 3 3" stroke-dashoffset="47"/><circle cx="246.25" cy="261.65" r="186.1" fill="none" stroke="#fff" stroke-opacity="0.12" stroke-width="2" stroke-dasharray="3 3 6 5 3 12 3 8 6 8 2 3 2 3 2 12 4 12 3 12" stroke-dashoffset="39"/><circle cx="246.25" cy="261.65" r="188.4" fill="none" stroke="#fff" stroke-opacity="0.11" stroke-width="2" stroke-dasharray="6 5 6 5 4 12 4 3 3 12 6 3 2 3 3 8 2 8 3 3" stroke-dashoffset="55"/><circle cx="246.25" cy="261.65" r="191.7" fill="none" stroke="#fff" stroke-opacity="0.11" stroke-width="2" stroke-dasharray="4 12 2 3 3 5 4 5 3 8 2 3 3 8 2 5 2 3 4 8" stroke-dashoffset="7"/><circle cx="246.25" cy="261.65" r="195.0" fill="none" stroke="#fff" stroke-opacity="0.08" stroke-width="2" stroke-dasharray="6 12 4 3 3 8 2 5 2 5 3 8 6 5 6 5 4 5 6 12" stroke-dashoffset="23"/><circle cx="246.25" cy="261.65" r="197.2" fill="none" stroke="#fff" stroke-opacity="0.11" stroke-width="2" stroke-dasharray="6 5 4 3 4 8 6 12 6 8 3 5 3 3 4 5 2 12 6 5" stroke-dashoffset="58"/><circle cx="246.25" cy="261.65" r="200.4" fill="none" stroke="#fff" stroke-opacity="0.08" stroke-width="2" stroke-dasharray="3 12 2 3 2 5 6 5 3 5 6 12 3 8 6 3 3 3 4 12" stroke-dashoffset="37"/><circle cx="246.25" cy="261.65" r="203.3" fill="none" stroke="#fff" stroke-opacity="0.09" stroke-width="2" stroke-dasharray="4 5 6 3 2 8 3 12 6 3 2 5 4 5 6 12 4 3 4 5" stroke-dashoffset="33"/><circle cx="246.25" cy="261.65" r="206.5" fill="none" stroke="#fff" stroke-opacity="0.11" stroke-width="2" stroke-dasharray="2 5 4 8 2 12 6 3 3 3 2 12 2 12 3 8 6 8 2 8" stroke-dashoffset="35"/><circle cx="246.25" cy="261.65" r="208.7" fill="none" stroke="#fff" stroke-opacity="0.14" stroke-width="2" stroke-dasharray="3 3 6 12 6 8 2 3 3 3 4 5 4 5 4 12 4 8 3 12" stroke-dashoffset="44"/><circle cx="246.25" cy="261.65" r="211.5" fill="none" stroke="#fff" stroke-opacity="0.08" stroke-width="2" stroke-dasharray="4 3 6 5 3 8 3 8 2 12 4 8 2 8 4 12 6 12 4 5" stroke-dashoffset="45"/><circle cx="246.25" cy="261.65" r="213.9" fill="none" stroke="#fff" stroke-opacity="0.10" stroke-width="2" stroke-dasharray="6 3 3 5 3 8 3 3 2 12 4 5 2 12 3 8 3 5 2 3" stroke-dashoffset="11"/><circle cx="246.25" cy="261.65" r="217.0" fill="none" stroke="#fff" stroke-opacity="0.06" stroke-width="2" stroke-dasharray="6 12 3 5 3 3 6 5 3 12 6 5 4 3 4 3 3 5 6 8" stroke-dashoffset="25"/><circle cx="246.25" cy="261.65" r="219.9" fill="none" stroke="#fff" stroke-opacity="0.09" stroke-width="2" stroke-dasharray="2 3 4 5 6 12 3 5 6 8 4 5 4 8 3 5 6 3 6 3" stroke-dashoffset="40"/><circle cx="246.25" cy="261.65" r="222.9" fill="none" stroke="#fff" stroke-opacity="0.07" stroke-width="2" stroke-dasharray="2 12 3 12 2 3 4 3 4 3 4 8 4 8 2 3 2 8 4 3" stroke-dashoffset="18"/><circle cx="246.25" cy="261.65" r="225.2" fill="none" stroke="#fff" stroke-opacity="0.12" stroke-width="2" stroke-dasharray="2 3 3 5 6 8 4 3 3 12 4 5 3 8 4 8 2 8 4 8" stroke-dashoffset="53"/><circle cx="246.25" cy="261.65" r="227.4" fill="none" stroke="#fff" stroke-opacity="0.07" stroke-width="2" stroke-dasharray="2 8 6 12 2 12 3 3 4 8 6 12 2 12 6 8 4 12 6 8" stroke-dashoffset="53"/><circle cx="246.25" cy="261.65" r="229.4" fill="none" stroke="#fff" stroke-opacity="0.11" stroke-width="2" stroke-dasharray="2 5 2 12 6 3 2 5 3 8 3 3 4 12 3 8 4 3 4 12" stroke-dashoffset="36"/><circle cx="246.25" cy="261.65" r="232.1" fill="none" stroke="#fff" stroke-opacity="0.11" stroke-width="2" stroke-dasharray="2 3 3 8 6 3 2 12 3 3 6 3 6 12 2 5 4 3 2 8" stroke-dashoffset="59"/><circle cx="246.25" cy="261.65" r="234.2" fill="none" stroke="#fff" stroke-opacity="0.12" stroke-width="2" stroke-dasharray="6 5 4 5 2 12 2 3 6 8 3 8 2 5 2 3 2 12 2 3" stroke-dashoffset="26"/><circle cx="246.25" cy="261.65" r="236.6" fill="none" stroke="#fff" stroke-opacity="0.13" stroke-width="2" stroke-dasharray="6 5 4 8 2 8 6 5 6 12 6 3 3 5 2 8 4 5 6 12" stroke-dashoffset="33"/><circle cx="246.25" cy="261.65" r="239.9" fill="none" stroke="#fff" stroke-opacity="0.10" stroke-width="2" stroke-dasharray="2 5 3 12 2 12 2 5 2 5 4 5 6 3 3 3 4 12 6 3" stroke-dashoffset="24"/><circle cx="246.25" cy="261.65" r="242.1" fill="none" stroke="#fff" stroke-opacity="0.13" stroke-width="2" stroke-dasharray="4 3 4 3 2 12 3 12 4 5 3 3 4 5 6 5 6 3 4 3" stroke-dashoffset="24"/><circle cx="246.25" cy="261.65" r="245.1" fill="none" stroke="#fff" stroke-opacity="0.12" stroke-width="2" stroke-dasharray="6 12 3 5 3 3 6 5 4 5 6 5 3 12 4 5 3 3 3 12" stroke-dashoffset="28"/><circle cx="246.25" cy="261.65" r="248.2" fill="none" stroke="#fff" stroke-opacity="0.08" stroke-width="2" stroke-dasharray="2 8 2 5 3 8 2 3 6 5 6 8 3 12 6 3 2 12 4 12" stroke-dashoffset="19"/><circle cx="246.25" cy="261.65" r="250.7" fill="none" stroke="#fff" stroke-opacity="0.07" stroke-width="2" stroke-dasharray="4 12 4 5 6 3 4 12 4 5 2 8 6 12 4 8 4 3 4 3" stroke-dashoffset="46"/><circle cx="246.25" cy="261.65" r="253.8" fill="none" stroke="#fff" stroke-opacity="0.10" stroke-width="2" stroke-dasharray="4 8 6 8 6 5 6 3 3 5 3 12 4 12 4 8 6 3 2 3" stroke-dashoffset="58"/><circle cx="246.25" cy="261.65" r="256.7" fill="none" stroke="#fff" stroke-opacity="0.11" stroke-width="2" stroke-dasharray="2 8 3 3 4 12 2 8 6 5 4 3 6 3 2 8 4 5 2 5" stroke-dashoffset="1"/><circle cx="246.25" cy="261.65" r="259.4" fill="none" stroke="#fff" stroke-opacity="0.12" stroke-width="2" stroke-dasharray="6 3 4 8 3 5 3 8 2 8 4 3 3 3 2 5 3 5 3 5" stroke-dashoffset="52"/><circle cx="246.25" cy="261.65" r="261.6" fill="none" stroke="#fff" stroke-opacity="0.13" stroke-width="2" stroke-dasharray="2 12 2 5 6 5 3 8 4 3 4 8 6 8 4 3 4 8 3 12" stroke-dashoffset="45"/><circle cx="246.25" cy="261.65" r="264.3" fill="none" stroke="#fff" stroke-opacity="0.09" stroke-width="2" stroke-dasharray="2 5 4 3 6 3 6 5 2 12 6 12 3 8 3 3 6 3 6 3" stroke-dashoffset="28"/><circle cx="246.25" cy="261.65" r="267.4" fill="none" stroke="#fff" stroke-opacity="0.07" stroke-width="2" stroke-dasharray="3 3 6 12 3 5 6 8 4 12 2 8 4 3 4 5 4 5 4 3" stroke-dashoffset="31"/><circle cx="246.25" cy="261.65" r="269.6" fill="none" stroke="#fff" stroke-opacity="0.11" stroke-width="2" stroke-dasharray="6 5 4 5 6 12 3 12 6 8 6 3 4 8 3 3 2 12 6 5" stroke-dashoffset="4"/></g><linearGradient id="ln157" gradientUnits="userSpaceOnUse" x1="246.25" y1="261.65" x2="165.9" y2="228.4"><stop offset="0" stop-color="#fff" stop-opacity="1"/><stop offset="0.5" stop-color="#fff" stop-opacity="0.75"/><stop offset="1" stop-color="#fff" stop-opacity="0.2"/></linearGradient><path d="M246.25 261.65L165.9 228.4" stroke="url(#ln157)" stroke-width="2.0"/><linearGradient id="ln236" gradientUnits="userSpaceOnUse" x1="246.25" y1="261.65" x2="213.0" y2="311.6"><stop offset="0" stop-color="#fff" stop-opacity="1"/><stop offset="0.5" stop-color="#fff" stop-opacity="0.75"/><stop offset="1" stop-color="#fff" stop-opacity="0.2"/></linearGradient><path d="M246.25 261.65L213.0 311.6" stroke="url(#ln236)" stroke-width="1.5"/><path d="M255.8 261.6L265.9 261.5L265.9 261.0L258.9 261.2L255.5 261.2L266.4 260.5L266.3 259.9L255.3 260.8L256.1 260.6L262.4 259.8L262.3 259.3L259.1 259.6L257.3 259.8L265.4 258.2L265.3 257.6L256.6 259.3L255.6 259.5L262.0 257.9L261.9 257.5L258.5 258.3L257.5 258.5L267.3 255.5L267.1 254.9L255.0 258.7L254.9 258.7L262.4 256.0L262.3 255.7L257.9 257.2L258.1 257.1L265.3 254.1L265.1 253.5L255.9 257.3L257.4 256.6L262.8 253.9L262.6 253.4L255.8 256.6L254.5 257.2L267.2 250.3L267.0 249.8L254.5 256.8L256.3 255.7L260.7 253.0L260.5 252.7L256.4 255.1L256.6 254.9L261.9 251.3L261.6 250.9L255.4 255.1L256.5 254.2L262.8 249.3L262.4 248.8L255.3 254.2L256.3 253.4L264.6 246.3L264.3 246.0L255.0 253.9L254.0 254.8L262.7 246.9L262.3 246.5L254.3 253.9L253.3 254.8L262.2 246.0L261.9 245.8L254.8 252.8L252.7 255.0L258.2 249.0L257.9 248.7L254.4 252.3L254.3 252.4L256.1 250.1L255.7 249.8L252.8 253.2L252.8 253.2L254.9 250.1L254.7 249.9L252.4 252.9L252.8 252.3L254.6 249.5L254.4 249.4L251.3 254.0L253.2 251.0L257.3 244.2L256.9 243.9L251.4 252.9L251.4 252.8L259.2 238.7L258.7 238.4L250.6 253.4L252.2 250.2L258.3 238.1L257.9 237.9L250.7 252.5L250.2 253.4L253.5 246.0L253.1 245.8L251.1 250.2L249.9 252.8L253.9 242.7L253.4 242.5L250.5 249.9L249.9 251.2L253.5 240.4L252.8 240.2L249.5 250.5L249.8 249.4L253.0 237.3L252.6 237.2L249.0 251.0L249.1 250.1L252.3 236.2L251.5 236.0L248.6 249.1L248.3 250.8L251.6 230.4L250.7 230.3L247.7 250.5L247.8 248.8L249.6 232.9L249.1 232.8L247.2 251.4L247.3 250.2L248.2 235.3L247.4 235.2L246.5 252.4L246.6 249.9L246.6 237.3L246.0 237.3L246.0 251.2L246.0 252.6L245.2 233.4L244.5 233.5L245.6 252.4L245.5 251.7L243.6 230.3L243.0 230.3L245.1 250.9L245.1 252.0L243.8 241.6L243.2 241.7L244.3 249.8L244.5 251.3L242.4 240.2L241.9 240.3L243.7 249.8L243.7 250.2L239.4 231.7L238.9 231.8L243.9 252.4L243.7 251.9L239.6 236.7L239.0 236.8L243.3 251.8L243.5 252.7L238.6 237.7L237.9 237.9L242.3 250.9L242.8 252.4L237.3 238.5L236.7 238.7L241.4 250.4L241.5 250.7L239.5 246.4L239.1 246.6L242.0 252.8L240.9 250.7L237.9 245.0L237.4 245.3L241.8 253.7L240.2 250.9L236.9 245.5L236.6 245.7L240.3 252.0L239.7 251.2L236.3 246.0L235.9 246.3L240.9 254.0L240.1 252.9L234.1 244.7L233.7 245.0L239.5 252.9L239.1 252.6L234.5 247.0L234.2 247.3L239.6 253.9L239.3 253.6L237.3 251.6L237.0 251.9L239.4 254.6L237.5 252.7L230.5 246.0L230.0 246.5L236.7 252.9L236.6 253.0L235.1 251.9L234.8 252.2L237.0 254.2L236.6 254.0L240.7 257.3L240.6 257.4L236.9 254.7L236.2 254.2L241.1 257.9L241.0 258.1L235.9 254.7L237.9 256.1L242.2 259.0L242.1 259.1L238.4 257.0L235.4 255.3L239.6 257.8L239.6 258.0L236.3 256.3L237.9 257.2L240.8 258.8L240.8 258.9L236.4 256.8L236.3 256.8L240.1 258.7L240.1 258.9L236.5 257.4L237.1 257.7L241.1 259.4L241.0 259.5L234.7 257.0L237.6 258.3L239.4 259.1L239.3 259.3L236.9 258.5L234.6 257.9L240.2 259.7L240.2 259.8L236.9 258.9L234.5 258.3L238.8 259.6L238.8 259.8L234.3 258.8L235.3 259.1L240.2 260.3L240.2 260.4L235.9 259.6L235.0 259.5L241.0 260.7L241.0 260.8L235.3 260.1L234.3 260.0L240.2 260.8L240.2 260.9L237.3 260.7L237.1 260.7L239.1 260.9L239.1 261.1L237.1 261.0L233.9 260.8L234.0 260.9L234.0 261.3L236.9 261.5L236.0 261.6L233.8 261.7L233.8 262.1L235.9 262.1L235.8 262.2L231.6 262.6L231.7 263.0L236.5 262.7L236.8 262.7L233.0 263.3L233.0 263.6L237.4 263.1L235.1 263.5L230.2 264.5L230.3 265.0L237.3 263.7L234.4 264.4L231.9 265.2L232.0 265.6L236.1 264.6L236.0 264.7L231.9 266.0L232.0 266.2L236.3 264.9L236.5 264.9L231.1 266.9L231.3 267.4L234.4 266.4L237.0 265.4L233.7 266.9L233.8 267.3L236.2 266.4L237.3 265.9L233.5 267.9L233.6 268.1L237.8 266.0L236.9 266.5L235.6 267.3L235.7 267.5L235.3 267.8L236.0 267.4L241.0 264.7L241.1 264.8L235.5 268.4L236.2 268.1L239.1 266.3L239.3 266.5L237.1 268.2L236.6 268.6L238.9 267.1L239.0 267.2L237.6 268.3L239.0 267.3L239.2 267.2L239.3 267.4L239.1 267.7L238.3 268.5L239.9 267.2L239.9 267.3L237.2 269.9L239.3 268.1L239.5 268.0L239.6 268.2L237.5 270.4L237.3 270.8L239.8 268.3L240.0 268.5L238.8 270.1L238.3 270.8L242.6 265.9L242.6 266.0L239.3 270.2L238.7 271.0L242.5 266.3L242.6 266.4L238.6 271.9L238.8 271.7L241.6 268.1L241.7 268.2L240.7 269.6L240.7 269.7L242.6 267.1L242.7 267.2L240.8 270.1L240.1 271.3L242.8 267.3L242.9 267.4L240.0 272.8L241.2 270.8L241.6 270.3L241.8 270.5L241.9 270.6L240.7 273.3L242.4 270.1L242.6 270.2L242.2 271.5L242.3 271.5L243.3 269.1L243.6 269.2L242.2 273.5L242.4 273.0L243.0 271.8L243.2 271.8L242.7 273.8L242.8 273.6L241.3 279.6L241.9 279.8L244.1 271.0L243.9 272.5L242.7 278.5L243.0 278.5L244.0 274.2L244.1 273.9L242.1 286.9L242.7 287.0L244.8 272.9L245.0 271.8L243.1 290.0L243.8 290.1L245.5 271.7L245.5 272.9L245.1 280.8L245.7 280.9L246.1 271.6L246.2 271.2L246.3 288.6L247.2 288.6L246.8 274.6L246.8 271.5L247.9 287.6L248.7 287.5L247.5 272.9L247.6 273.5L249.0 284.5L249.4 284.4L248.0 273.9L248.1 274.0L250.6 288.4L251.4 288.2L248.1 270.6L248.7 273.0L252.4 289.5L253.0 289.4L249.2 273.4L249.4 273.7L253.8 290.1L254.3 290.0L249.0 271.2L249.0 270.8L254.1 287.4L254.7 287.3L249.9 272.5L249.5 271.1L255.8 288.7L256.2 288.5L250.7 273.3L249.6 270.4L253.2 279.2L253.7 279.0L251.2 272.8L251.3 272.9L253.5 277.7L253.8 277.6L250.7 270.8L251.5 272.4L256.2 281.6L256.8 281.3L251.2 270.7L251.5 271.0L256.4 279.7L256.7 279.5L251.9 271.1L252.4 271.9L259.1 282.7L259.6 282.4L252.3 270.8L251.5 269.6L259.3 280.9L259.7 280.6L252.2 269.8L253.6 271.8L256.7 275.7L257.1 275.3L254.2 271.4L253.8 270.8L260.9 279.2L261.2 278.9L254.0 270.5L253.0 269.3L263.5 280.7L264.0 280.3L254.4 270.0L255.2 270.8L258.4 273.8L258.7 273.4L253.8 268.7L254.4 269.1L264.3 277.9L264.6 277.6L253.3 267.7L254.8 269.0L264.9 277.3L265.3 276.8L253.9 267.6L256.2 269.3L260.5 272.4L260.7 272.1L255.7 268.4L255.5 268.1L260.1 271.2L260.3 271.0L256.9 268.6L256.0 268.0L265.2 273.6L265.6 273.1L255.6 267.0L256.5 267.5L268.2 273.7L268.5 273.2L254.7 265.9L256.2 266.6L268.1 272.3L268.4 271.8L257.2 266.6L255.5 265.8L261.0 268.0L261.2 267.6L254.8 265.0L256.5 265.6L260.4 267.0L260.6 266.6L255.7 264.9L258.4 265.7L269.8 269.3L270.0 268.6L256.6 264.6L258.2 265.0L264.0 266.4L264.1 266.1L255.4 263.9L257.7 264.4L266.6 266.3L266.7 265.8L257.3 263.8L255.8 263.4L262.0 264.5L262.0 264.2L256.8 263.3L258.1 263.4L268.9 264.7L269.0 264.1L257.6 262.7L258.4 262.7L269.1 263.5L269.2 263.0L257.4 262.2L256.0 262.1L265.7 262.3L265.7 261.9L256.3 261.7Z" fill="#ff0"/><path d="M238.8 281.9L240.3 284.7L242.3 285.7L246.7 286.5L248.1 289.3L248.6 291.7L251.9 294.8L253.7 297.0L254.3 299.8L256.6 303.7L258.6 305.7L259.8 308.0L260.8 309.4L263.9 312.6L265.1 313.6L266.4 316.1L268.2 319.6L269.1 322.1L271.9 322.7L271.9 325.9L272.2 328.0L275.4 329.7L275.8 332.0L276.9 335.9L277.9 337.4" fill="none" stroke="#e8e8c0" stroke-width="4.5" stroke-linejoin="round"/><path d="M238.8 281.9L240.3 284.7L242.3 285.7L246.7 286.5L248.1 289.3L248.6 291.7L251.9 294.8L253.7 297.0L254.3 299.8L256.6 303.7L258.6 305.7L259.8 308.0L260.8 309.4L263.9 312.6L265.1 313.6L266.4 316.1L268.2 319.6L269.1 322.1L271.9 322.7L271.9 325.9L272.2 328.0L275.4 329.7L275.8 332.0L276.9 335.9L277.9 337.4" fill="none" stroke="#ff0" stroke-width="2.8" stroke-linejoin="round"/><path d="M217.5 305.0L209.7 316.6" stroke="#ff0" stroke-width="3"/><path d="M285.9 337.0L294.7 339.5L295.5 342.3L291.1 343.5L289.9 351.5L290.3 360.4L287.9 360.8L287.1 355.6L285.9 344.3Z" fill="#ff0" stroke="#e8e8c8" stroke-width="1.3" stroke-linejoin="round"/><path d="M301.2 349.1L306.0 348.3L308.4 351.5L304.4 354.4Z" fill="#ff0" stroke="#e8e8c8" stroke-width="1.3" stroke-linejoin="round"/><path d="M310.0 353.2L312.4 346.7L322.9 342.3L330.1 345.9L332.5 348.3L330.9 349.5L325.3 348.3L318.8 350.7L314.8 358.8Z" fill="#ff0" stroke="#e8e8c8" stroke-width="1.3" stroke-linejoin="round"/><path d="M104.5 306.5L109.7 306.0L114.1 310.9L113.2 313.5L108.9 312.6L107.1 309.1Z" fill="#ff0" stroke="#e8e8c8" stroke-width="1.3" stroke-linejoin="round"/><path d="M107.1 338.0L111.5 338.9L117.6 347.7L115.0 349.5L109.7 344.2Z" fill="#ff0" stroke="#e8e8c8" stroke-width="1.3" stroke-linejoin="round"/><path d="M86.0 277.5L86.9 286.3L86.0 295.0L88.7 302.0L93.0 309.0" fill="none" stroke="#e8e8c8" stroke-width="5.5" stroke-linejoin="round" stroke-linecap="round"/><path d="M86.0 277.5L86.9 286.3L86.0 295.0L88.7 302.0L93.0 309.0" fill="none" stroke="#ff0" stroke-width="4.2" stroke-linejoin="round" stroke-linecap="round"/><path d="M83.4 326.7L91.3 329.3L96.6 333.7L99.2 338.0L102.7 341.6" fill="none" stroke="#e8e8c8" stroke-width="5.5" stroke-linejoin="round" stroke-linecap="round"/><path d="M83.4 326.7L91.3 329.3L96.6 333.7L99.2 338.0L102.7 341.6" fill="none" stroke="#ff0" stroke-width="4.2" stroke-linejoin="round" stroke-linecap="round"/><path d="M115.0 312.6L104.5 318.8" fill="none" stroke="#ff0" stroke-width="1.2" stroke-linejoin="round" stroke-linecap="round"/><path d="M304.5 235.5L310.5 232.5" stroke="#ff0" stroke-width="1.7"/><circle cx="237" cy="437" r="0.8" fill="#ddd"/><circle cx="246.25" cy="261.65" r="4.7" fill="#6a6a6a"/><path d="M99.2 74.0L99.2 75.1L91.2 84.3L92.3 95.8L96.9 103.9L101.5 110.3L107.3 111.2L113.0 108.5L119.9 106.2L122.2 99.3L128.0 97.0L130.3 91.2L133.7 90.1L132.6 83.2L132.1 75.1L132.1 74.0" fill="none" stroke="#fff" stroke-width="1.3" stroke-linejoin="round"/><path d="M59.0 179.3L69.3 179.3L73.9 174.0L82.0 177.4L88.9 180.9L105.0 175.1L118.8 167.1L127.5 161.8L128.0 154.5L130.3 151.0L132.6 146.4L129.1 144.1L125.7 141.8L130.3 135.6L153.3 133.8L154.4 146.4L161.3 145.7L162.4 135.6L168.2 132.6L178.5 136.1L187.7 138.8L194.6 137.2L203.8 139.5L207.3 143.0L215.3 141.1L224.5 137.2L229.0 137.8L235.9 134.3L239.3 130.9L242.8 129.2L246.2 125.7L251.4 124.0L254.0 125.7L256.6 127.4L260.9 124.9L260.0 122.3L263.5 119.7L264.3 116.2L271.2 116.8L272.1 119.7L276.4 120.6L279.9 123.1L280.7 129.2L282.4 133.5L281.6 136.1L275.6 137.8L278.1 144.7L285.0 143.0L284.2 140.4L288.5 144.7L293.7 143.0L292.8 138.7L304.9 136.1L302.3 129.2L296.2 130.9L288.5 129.2L294.5 124.9L287.6 110.2L298.8 104.7L310.0 124.0L314.3 124.9L308.3 128.3L309.2 131.8L318.7 128.3L316.1 120.6L313.5 117.1L316.9 115.4L320.4 118.0L323.8 115.4L322.1 111.1L311.8 103.3L318.7 96.4L332.4 106.8L337.6 101.6L320.4 90.4L323.0 81.8L329.0 79.2L349.7 84.3L351.4 75.7L352.3 74.0" fill="none" stroke="#fff" stroke-width="1.3" stroke-linejoin="round"/><path d="M248.0 112.8L249.7 117.1" fill="none" stroke="#fff" stroke-width="1.3" stroke-linejoin="round"/><circle cx="87" cy="85" r="1.3" fill="#fff"/></g><g clip-path="url(#cpR)"><defs><radialGradient id="og" gradientUnits="userSpaceOnUse" cx="667.45" cy="261.65" r="95"><stop offset="0" stop-color="#ff2e00"/><stop offset="0.35" stop-color="#ff4000"/><stop offset="0.7" stop-color="#ff6208"/><stop offset="1" stop-color="#ff7412"/></radialGradient></defs><path d="M598.8 199.8L600.4 199.1L602.2 198.6L603.7 197.9L605.2 197.2L605.4 195.2L609.3 197.1L608.8 194.2L608.2 191.0L611.0 191.9L612.0 190.7L616.3 193.7L617.0 192.2L619.4 193.1L620.4 191.8L622.0 191.7L625.3 194.2L626.2 193.0L627.5 192.5L627.4 189.4L629.3 189.8L631.9 191.9L631.7 188.4L634.4 190.8L633.5 185.3L633.4 181.4L632.8 175.9L632.6 170.9L635.2 173.1L636.7 172.3L637.0 167.8L639.2 169.1L642.3 173.8L643.6 172.5L646.9 179.2L648.9 181.4L652.5 191.4L655.2 198.6L654.6 188.6L654.3 178.6L655.4 176.2L657.0 176.4L658.2 173.4L659.6 171.7L661.2 171.6L662.8 173.0L664.4 173.2L665.9 173.1L667.5 178.0L668.9 176.4L670.4 177.2L671.9 175.9L673.7 171.9L675.3 172.1L676.9 172.2L678.6 170.7L680.5 168.9L681.4 173.8L683.3 171.6L683.6 178.5L685.4 177.3L686.7 178.2L686.9 183.6L689.0 181.2L689.5 184.7L691.0 184.6L691.7 187.2L693.2 186.8L694.9 186.1L697.6 183.2L697.4 187.5L699.7 185.8L701.2 185.9L702.2 187.1L701.9 191.0L702.8 192.2L704.1 192.7L705.7 192.7L705.0 196.7L707.5 195.0L708.5 195.9L710.0 196.1L709.0 200.0L712.9 196.7L711.7 200.7L713.7 200.3L715.8 199.7L718.0 199.2L717.3 202.2L720.4 200.7L720.4 202.9L720.9 204.4L722.7 204.5L724.0 205.1L725.5 205.6L727.6 205.6L731.2 204.3L733.9 203.8L732.4 207.2L733.0 208.5L736.7 207.5L734.9 210.8L734.3 213.0L733.5 215.4L734.6 216.3L735.1 217.7L733.1 220.6L732.4 222.6L730.2 225.4L733.3 225.2L728.7 229.1L730.0 229.8L731.5 230.4L728.6 233.1L731.6 233.1L732.9 233.9L731.6 235.7L732.5 236.7L729.5 239.1L731.7 239.5L730.9 241.0L734.9 241.0L732.8 242.9L734.2 243.8L737.4 244.2L737.2 245.5L738.3 246.6L736.3 248.3L736.9 249.4L739.6 250.2L740.6 251.4L741.8 252.5L744.5 253.5L745.4 254.8L748.4 256.0L753.3 257.2L754.9 258.6L755.1 260.1L756.2 261.6L757.1 263.2L757.6 264.8L760.2 266.5L760.7 268.2L757.5 269.5L751.3 270.5L751.8 272.0L750.2 273.3L748.2 274.4L747.3 275.7L747.2 277.2L744.7 278.1L745.7 279.7L743.0 280.5L743.3 282.0L744.0 283.6L742.8 284.7L739.8 285.2L741.8 287.2L739.2 287.8L737.8 288.6L734.0 288.5L735.3 290.4L732.8 290.7L733.5 292.4L731.9 293.1L732.8 294.9L731.4 295.6L731.3 297.0L730.5 298.1L733.4 301.3L735.3 304.0L737.1 306.9L736.5 308.2L737.7 310.8L737.0 312.2L735.4 312.9L735.7 315.0L734.7 316.1L732.1 315.9L731.2 317.1L729.0 317.0L730.5 320.4L729.8 321.9L727.2 321.4L727.2 323.5L726.4 324.9L725.5 326.2L722.8 325.3L723.8 328.9L722.0 329.0L720.9 330.0L718.7 329.6L717.9 331.0L716.9 332.2L715.0 332.2L713.8 333.0L710.6 330.7L709.7 331.9L709.1 333.7L708.2 335.2L705.8 333.8L705.6 336.4L703.1 334.8L699.6 330.6L698.3 331.0L695.5 327.8L692.9 324.7L690.9 322.7L689.2 321.4L687.1 318.8L685.4 316.8L683.5 314.0L682.5 314.0L680.8 311.4L679.6 310.4L678.2 308.1L676.5 304.1L676.0 305.4L674.2 299.7L673.6 300.4L672.6 298.5L671.9 297.8L671.0 295.0L670.6 297.2L669.7 293.5L669.0 290.5L668.5 292.1L667.9 289.1L667.5 290.9L667.0 289.5L666.5 290.2L665.9 291.7L665.4 290.5L665.1 288.1L664.5 289.6L664.2 288.3L664.0 286.4L663.8 284.9L663.0 286.6L662.7 286.0L662.0 287.4L661.6 286.9L661.7 284.7L661.7 282.9L660.7 285.0L661.8 280.0L661.6 279.7L660.8 281.0L660.7 280.3L661.5 277.2L660.6 278.6L660.1 279.0L661.2 275.8L661.1 275.2L661.7 273.4L661.8 272.8L660.4 274.9L662.1 271.3L660.9 272.9L661.4 271.8L662.5 269.5L663.8 267.3L662.2 269.4L664.0 266.5L667.5 261.6Z" fill="#f82a00"/><path d="M599.5 200.5L601.9 200.5L601.5 198.0L605.3 199.5L606.8 198.8L607.0 196.8L609.0 196.8L608.3 193.6L609.8 192.9L612.1 193.3L612.4 191.2L614.1 190.9L618.3 194.0L618.6 191.9L621.1 192.9L621.1 190.2L623.2 190.9L626.1 192.9L627.5 192.5L629.3 192.8L628.7 188.9L631.6 191.3L632.1 189.3L633.7 189.3L633.4 185.2L632.5 179.2L631.4 172.4L634.0 174.4L634.3 170.6L636.5 171.9L637.6 169.9L639.9 171.7L642.2 173.7L644.1 174.6L647.0 179.6L649.3 183.0L652.0 188.8L655.5 200.3L655.1 191.8L654.8 182.1L655.7 178.4L656.6 173.3L657.9 170.8L659.4 169.8L661.2 172.3L662.6 169.4L664.3 172.6L665.9 173.3L667.5 174.4L668.9 176.6L670.4 176.5L672.1 172.9L673.6 174.0L675.2 172.5L677.1 169.5L678.4 172.1L680.2 170.9L682.0 170.0L682.5 176.0L684.4 174.5L685.3 177.6L686.3 180.2L687.2 182.3L689.0 181.3L690.3 182.1L690.4 186.7L692.4 184.9L694.0 184.5L695.5 184.6L696.4 186.1L697.3 187.7L699.3 186.5L700.9 186.5L700.4 191.1L701.6 191.5L703.9 190.1L704.8 191.5L705.4 193.2L704.8 197.0L707.4 195.1L709.0 195.2L710.4 195.5L710.9 197.3L710.3 200.4L713.9 197.7L713.3 200.7L715.9 199.6L718.1 199.1L718.5 200.8L717.8 203.7L719.5 203.8L722.9 202.2L722.1 205.1L725.6 203.5L726.7 204.4L727.6 205.5L730.9 204.5L730.3 207.0L732.2 207.4L734.3 207.5L733.1 210.3L733.0 212.2L735.0 212.5L735.6 213.9L735.8 215.6L732.2 219.6L733.0 220.7L731.9 222.9L732.6 224.1L731.4 226.2L732.7 226.9L729.5 230.0L728.0 232.1L731.2 231.9L729.0 234.3L731.4 234.5L731.0 236.0L733.1 236.4L731.6 238.3L732.6 239.2L731.5 240.8L706.8 254.7L667.5 261.6Z" fill="url(#og)"/><defs><linearGradient id="bg1" gradientUnits="userSpaceOnUse" x1="700" y1="262" x2="685" y2="340"><stop offset="0" stop-color="#02088a"/><stop offset="0.5" stop-color="#0812a8"/><stop offset="1" stop-color="#1430c8"/></linearGradient></defs><path d="M678.4 249.7L678.4 250.1L680.6 248.3L680.7 248.6L680.4 249.3L681.6 248.7L682.8 248.0L684.8 246.8L684.0 248.0L686.6 246.4L687.3 246.4L686.5 247.6L689.3 246.1L688.3 247.3L689.4 247.1L692.0 246.1L691.7 246.8L695.3 245.3L695.6 245.8L696.7 245.8L700.0 244.7L699.0 246.0L703.2 244.6L702.5 245.7L704.2 245.7L707.9 245.0L707.6 245.9L706.6 247.1L706.9 247.7L710.9 247.2L710.4 248.2L711.7 248.6L709.1 250.2L710.7 250.6L709.3 251.7L708.4 252.6L708.4 253.4L709.1 254.0L707.6 255.0L707.3 255.8L705.9 256.7L708.7 257.0L708.3 257.8L709.3 258.4L708.1 259.3L710.1 259.9L709.1 260.7L709.7 261.4L710.1 262.1L711.2 262.9L710.3 263.6L709.6 264.3L709.8 265.1L710.9 265.9L710.6 266.7L714.4 268.0L713.2 268.6L714.6 269.7L712.3 270.1L715.0 271.5L717.4 272.9L717.2 273.7L717.2 274.7L718.0 275.9L717.3 276.6L718.2 277.8L718.7 279.0L719.8 280.4L720.0 281.5L722.1 283.4L719.6 283.5L720.2 284.8L720.4 286.0L720.1 287.0L721.0 288.6L721.4 290.0L722.7 291.9L721.6 292.6L725.1 295.9L723.6 296.4L725.9 299.2L726.5 301.1L728.2 303.8L729.2 306.1L732.4 310.1L730.3 310.3L732.2 313.6L731.1 314.6L731.7 317.0L730.9 318.3L728.3 317.9L727.5 319.1L726.0 319.8L725.9 321.7L724.7 322.6L724.8 324.8L725.5 327.9L722.6 326.9L720.8 327.0L719.4 327.7L717.3 327.3L716.7 328.9L714.9 329.0L712.0 327.2L711.2 328.5L711.2 331.1L710.7 333.0L709.0 333.1L707.5 333.4L707.5 336.3L704.5 333.9L702.4 332.8L701.4 333.9L698.6 331.1L695.7 327.7L694.2 327.3L692.6 326.6L689.8 322.7L687.7 320.1L685.6 317.1L683.9 314.9L683.2 316.0L681.2 312.3L680.1 311.9L677.9 306.2L676.7 304.7L675.4 301.8L674.6 301.9L673.5 299.3L672.8 298.8L672.0 298.0L671.2 296.3L670.3 293.9L669.7 292.5L669.3 294.8L668.5 290.3L668.0 291.2L667.5 290.3L667.0 290.4L666.6 288.2L666.1 288.7L665.7 287.4L665.1 288.7L664.5 289.7L664.3 288.0L663.7 288.5L663.7 285.5L663.5 284.3L662.8 285.8L662.5 285.1L662.1 285.0L662.0 283.7L661.4 284.2L661.1 284.0L660.6 284.0L661.2 280.8L661.0 280.5L660.4 281.0L661.2 277.9L661.4 276.6L661.2 276.5L661.6 274.8L660.5 276.5L660.6 275.8L661.6 273.1L662.2 271.5L662.6 270.4L662.6 270.1L663.3 268.6L662.9 268.9L663.0 268.5L664.1 266.6L665.0 265.1L667.5 261.6Z" fill="url(#bg1)"/><path d="M661 276L668 290L676 300L684 312L691.6 320" fill="none" stroke="#f01000" stroke-width="2.2" stroke-dasharray="6 2 3 2"/><path d="M713.5 303L726 317" stroke="#fff" stroke-width="1.3"/><defs><linearGradient id="bg2" gradientUnits="userSpaceOnUse" x1="640" y1="266" x2="625" y2="300"><stop offset="0" stop-color="#02088a"/><stop offset="1" stop-color="#1028c8"/></linearGradient></defs><path d="M662.5 261.9L636.5 263.3L624.4 264.7L608.6 266.9L597.4 269.1L597.0 270.4L598.4 271.5L596.9 273.0L597.4 274.2L594.6 276.1L595.1 277.4L592.9 279.2L593.6 280.5L592.7 282.1L593.4 283.4L593.8 284.7L591.9 286.8L592.5 288.1L591.1 290.1L592.4 291.2L592.7 292.6L594.9 293.2L592.7 295.8L597.6 295.1L602.4 294.3L606.3 293.7L608.3 294.0L609.8 294.5L609.9 295.9L613.4 295.1L617.5 293.8L652.2 271.8L662.4 264.9Z" fill="url(#bg2)"/><path d="M661.5 262.0L641.5 263.0L644.6 269.1L651.3 271.7L662.4 264.8Z" fill="#ff3a00"/><path d="M592.1 275.05L607.9 275.05L617.6 280.7L602.6 284.9L592.1 284.9Z" fill="#fff"/><path d="M661.9 259.3L603.2 233.8" stroke="#f02000" stroke-width="1.3" stroke-dasharray="3 1.5"/><path d="M637.6 306.6L632.0 315.0" stroke="#e01000" stroke-width="2"/><path d="M663.0 268.3L639.8 303.3" stroke="#f03000" stroke-width="0.8" stroke-dasharray="2 3"/><path d="M707.1 337.0L715.9 339.5L716.7 342.3L712.3 343.5L711.1 351.5L711.5 360.4L709.1 360.8L708.3 355.6L707.1 344.3Z" fill="#f00000" stroke="#f00000" stroke-width="1.3" stroke-linejoin="round"/><path d="M722.4 349.1L727.2 348.3L729.6 351.5L725.6 354.4Z" fill="#f00000" stroke="#f00000" stroke-width="1.3" stroke-linejoin="round"/><path d="M731.2 353.2L733.6 346.7L744.1 342.3L751.3 345.9L753.7 348.3L752.1 349.5L746.5 348.3L740.0 350.7L736.0 358.8Z" fill="#f00000" stroke="#f00000" stroke-width="1.3" stroke-linejoin="round"/><path d="M525.7 306.5L530.9 306.0L535.3 310.9L534.4 313.5L530.1 312.6L528.3 309.1Z" fill="#f00000" stroke="#f00000" stroke-width="1.3" stroke-linejoin="round"/><path d="M528.3 338.0L532.7 338.9L538.8 347.7L536.2 349.5L530.9 344.2Z" fill="#f00000" stroke="#f00000" stroke-width="1.3" stroke-linejoin="round"/><path d="M507.2 277.5L508.1 286.3L507.2 295.0L509.9 302.0L514.2 309.0" fill="none" stroke="#f00000" stroke-width="4.2" stroke-linejoin="round" stroke-linecap="round"/><path d="M504.6 326.7L512.5 329.3L517.8 333.7L520.4 338.0L523.9 341.6" fill="none" stroke="#f00000" stroke-width="4.2" stroke-linejoin="round" stroke-linecap="round"/><path d="M536.2 312.6L525.7 318.8" fill="none" stroke="#f00000" stroke-width="1.2" stroke-linejoin="round" stroke-linecap="round"/><rect x="506.5" y="281.5" width="2.4" height="3" fill="#000060"/><rect x="506.0" y="290.5" width="2.4" height="3" fill="#000060"/><rect x="508.0" y="298.5" width="2.4" height="3" fill="#000060"/><rect x="712.8" y="339.0" width="2.4" height="3" fill="#000060"/><rect x="708.8" y="348.5" width="2.4" height="3" fill="#000060"/><rect x="708.8" y="356.5" width="2.4" height="3" fill="#000060"/><rect x="724.8" y="350.5" width="2.4" height="3" fill="#000060"/><rect x="734.8" y="350.5" width="2.4" height="3" fill="#000060"/><rect x="740.8" y="345.5" width="2.4" height="3" fill="#000060"/><rect x="746.8" y="346.0" width="2.4" height="3" fill="#000060"/><rect x="531.0" y="309.5" width="2.4" height="3" fill="#000060"/><rect x="533.0" y="345.5" width="2.4" height="3" fill="#000060"/><circle cx="667.45" cy="261.65" r="5.3" fill="#fff"/><path d="M520.5 74.0L520.5 75.1L512.5 84.3L513.5 95.8L518.1 103.9L522.8 110.3L528.5 111.2L534.2 108.5L541.1 106.2L543.5 99.3L549.2 97.0L551.5 91.2L555.0 90.1L553.9 83.2L553.4 75.1L553.4 74.0" fill="none" stroke="#000" stroke-width="1.3" stroke-linejoin="round"/><path d="M480.2 179.3L490.6 179.3L495.1 174.0L503.2 177.4L510.1 180.9L526.2 175.1L540.0 167.1L548.8 161.8L549.2 154.5L551.5 151.0L553.9 146.4L550.4 144.1L547.0 141.8L551.5 135.6L574.5 133.8L575.6 146.4L582.5 145.7L583.6 135.6L589.5 132.6L599.8 136.1L609.0 138.8L615.9 137.2L625.0 139.5L628.5 143.0L636.5 141.1L645.8 137.2L650.2 137.8L657.1 134.3L660.5 130.9L664.0 129.2L667.5 125.7L672.6 124.0L675.2 125.7L677.9 127.4L682.1 124.9L681.2 122.3L684.8 119.7L685.5 116.2L692.5 116.8L693.4 119.7L697.6 120.6L701.1 123.1L702.0 129.2L703.6 133.5L702.9 136.1L696.9 137.8L699.4 144.7L706.2 143.0L705.5 140.4L709.8 144.7L715.0 143.0L714.0 138.7L726.1 136.1L723.5 129.2L717.5 130.9L709.8 129.2L715.8 124.9L708.9 110.2L720.0 104.7L731.2 124.0L735.5 124.9L729.5 128.3L730.5 131.8L740.0 128.3L737.4 120.6L734.8 117.1L738.1 115.4L741.6 118.0L745.0 115.4L743.4 111.1L733.0 103.3L740.0 96.4L753.6 106.8L758.9 101.6L741.6 90.4L744.2 81.8L750.2 79.2L771.0 84.3L772.6 75.7L773.5 74.0" fill="none" stroke="#000" stroke-width="1.3" stroke-linejoin="round"/><path d="M669.2 112.8L671.0 117.1" fill="none" stroke="#000" stroke-width="1.3" stroke-linejoin="round"/><circle cx="508.25" cy="85" r="1.3" fill="#000"/></g><rect x="59.00" y="74.4" width="374.50" height="374.5" fill="none" stroke="#000" stroke-width="2.3"/><path d="M59.00 74.4v-14.8M59.00 448.9v14.8M59.00 448.90h-14.8M433.50 448.90h14.8" stroke="#000" stroke-width="2.3"/><path d="M70.70 74.4v-7M70.70 448.9v7M59.00 437.20h-7M433.50 437.20h7" stroke="#000" stroke-width="1.4"/><path d="M82.41 74.4v-7M82.41 448.9v7M59.00 425.49h-7M433.50 425.49h7" stroke="#000" stroke-width="1.4"/><path d="M94.11 74.4v-7M94.11 448.9v7M59.00 413.79h-7M433.50 413.79h7" stroke="#000" stroke-width="1.4"/><path d="M105.81 74.4v-7M105.81 448.9v7M59.00 402.09h-7M433.50 402.09h7" stroke="#000" stroke-width="1.4"/><path d="M117.52 74.4v-7M117.52 448.9v7M59.00 390.38h-7M433.50 390.38h7" stroke="#000" stroke-width="1.4"/><path d="M129.22 74.4v-7M129.22 448.9v7M59.00 378.68h-7M433.50 378.68h7" stroke="#000" stroke-width="1.4"/><path d="M140.92 74.4v-7M140.92 448.9v7M59.00 366.98h-7M433.50 366.98h7" stroke="#000" stroke-width="1.4"/><path d="M152.62 74.4v-14.8M152.62 448.9v14.8M59.00 355.27h-14.8M433.50 355.27h14.8" stroke="#000" stroke-width="2.3"/><path d="M164.33 74.4v-7M164.33 448.9v7M59.00 343.57h-7M433.50 343.57h7" stroke="#000" stroke-width="1.4"/><path d="M176.03 74.4v-7M176.03 448.9v7M59.00 331.87h-7M433.50 331.87h7" stroke="#000" stroke-width="1.4"/><path d="M187.73 74.4v-7M187.73 448.9v7M59.00 320.17h-7M433.50 320.17h7" stroke="#000" stroke-width="1.4"/><path d="M199.44 74.4v-7M199.44 448.9v7M59.00 308.46h-7M433.50 308.46h7" stroke="#000" stroke-width="1.4"/><path d="M211.14 74.4v-7M211.14 448.9v7M59.00 296.76h-7M433.50 296.76h7" stroke="#000" stroke-width="1.4"/><path d="M222.84 74.4v-7M222.84 448.9v7M59.00 285.06h-7M433.50 285.06h7" stroke="#000" stroke-width="1.4"/><path d="M234.55 74.4v-7M234.55 448.9v7M59.00 273.35h-7M433.50 273.35h7" stroke="#000" stroke-width="1.4"/><path d="M246.25 74.4v-14.8M246.25 448.9v14.8M59.00 261.65h-14.8M433.50 261.65h14.8" stroke="#000" stroke-width="2.3"/><path d="M257.95 74.4v-7M257.95 448.9v7M59.00 249.95h-7M433.50 249.95h7" stroke="#000" stroke-width="1.4"/><path d="M269.66 74.4v-7M269.66 448.9v7M59.00 238.24h-7M433.50 238.24h7" stroke="#000" stroke-width="1.4"/><path d="M281.36 74.4v-7M281.36 448.9v7M59.00 226.54h-7M433.50 226.54h7" stroke="#000" stroke-width="1.4"/><path d="M293.06 74.4v-7M293.06 448.9v7M59.00 214.84h-7M433.50 214.84h7" stroke="#000" stroke-width="1.4"/><path d="M304.77 74.4v-7M304.77 448.9v7M59.00 203.13h-7M433.50 203.13h7" stroke="#000" stroke-width="1.4"/><path d="M316.47 74.4v-7M316.47 448.9v7M59.00 191.43h-7M433.50 191.43h7" stroke="#000" stroke-width="1.4"/><path d="M328.17 74.4v-7M328.17 448.9v7M59.00 179.73h-7M433.50 179.73h7" stroke="#000" stroke-width="1.4"/><path d="M339.88 74.4v-14.8M339.88 448.9v14.8M59.00 168.03h-14.8M433.50 168.03h14.8" stroke="#000" stroke-width="2.3"/><path d="M351.58 74.4v-7M351.58 448.9v7M59.00 156.32h-7M433.50 156.32h7" stroke="#000" stroke-width="1.4"/><path d="M363.28 74.4v-7M363.28 448.9v7M59.00 144.62h-7M433.50 144.62h7" stroke="#000" stroke-width="1.4"/><path d="M374.98 74.4v-7M374.98 448.9v7M59.00 132.92h-7M433.50 132.92h7" stroke="#000" stroke-width="1.4"/><path d="M386.69 74.4v-7M386.69 448.9v7M59.00 121.21h-7M433.50 121.21h7" stroke="#000" stroke-width="1.4"/><path d="M398.39 74.4v-7M398.39 448.9v7M59.00 109.51h-7M433.50 109.51h7" stroke="#000" stroke-width="1.4"/><path d="M410.09 74.4v-7M410.09 448.9v7M59.00 97.81h-7M433.50 97.81h7" stroke="#000" stroke-width="1.4"/><path d="M421.80 74.4v-7M421.80 448.9v7M59.00 86.10h-7M433.50 86.10h7" stroke="#000" stroke-width="1.4"/><path d="M433.50 74.4v-14.8M433.50 448.9v14.8M59.00 74.40h-14.8M433.50 74.40h14.8" stroke="#000" stroke-width="2.3"/><rect x="480.20" y="74.4" width="374.50" height="374.5" fill="none" stroke="#000" stroke-width="2.3"/><path d="M480.20 74.4v-14.8M480.20 448.9v14.8M480.20 448.90h-14.8M854.70 448.90h14.8" stroke="#000" stroke-width="2.3"/><path d="M491.90 74.4v-7M491.90 448.9v7M480.20 437.20h-7M854.70 437.20h7" stroke="#000" stroke-width="1.4"/><path d="M503.61 74.4v-7M503.61 448.9v7M480.20 425.49h-7M854.70 425.49h7" stroke="#000" stroke-width="1.4"/><path d="M515.31 74.4v-7M515.31 448.9v7M480.20 413.79h-7M854.70 413.79h7" stroke="#000" stroke-width="1.4"/><path d="M527.01 74.4v-7M527.01 448.9v7M480.20 402.09h-7M854.70 402.09h7" stroke="#000" stroke-width="1.4"/><path d="M538.72 74.4v-7M538.72 448.9v7M480.20 390.38h-7M854.70 390.38h7" stroke="#000" stroke-width="1.4"/><path d="M550.42 74.4v-7M550.42 448.9v7M480.20 378.68h-7M854.70 378.68h7" stroke="#000" stroke-width="1.4"/><path d="M562.12 74.4v-7M562.12 448.9v7M480.20 366.98h-7M854.70 366.98h7" stroke="#000" stroke-width="1.4"/><path d="M573.83 74.4v-14.8M573.83 448.9v14.8M480.20 355.27h-14.8M854.70 355.27h14.8" stroke="#000" stroke-width="2.3"/><path d="M585.53 74.4v-7M585.53 448.9v7M480.20 343.57h-7M854.70 343.57h7" stroke="#000" stroke-width="1.4"/><path d="M597.23 74.4v-7M597.23 448.9v7M480.20 331.87h-7M854.70 331.87h7" stroke="#000" stroke-width="1.4"/><path d="M608.93 74.4v-7M608.93 448.9v7M480.20 320.17h-7M854.70 320.17h7" stroke="#000" stroke-width="1.4"/><path d="M620.64 74.4v-7M620.64 448.9v7M480.20 308.46h-7M854.70 308.46h7" stroke="#000" stroke-width="1.4"/><path d="M632.34 74.4v-7M632.34 448.9v7M480.20 296.76h-7M854.70 296.76h7" stroke="#000" stroke-width="1.4"/><path d="M644.04 74.4v-7M644.04 448.9v7M480.20 285.06h-7M854.70 285.06h7" stroke="#000" stroke-width="1.4"/><path d="M655.75 74.4v-7M655.75 448.9v7M480.20 273.35h-7M854.70 273.35h7" stroke="#000" stroke-width="1.4"/><path d="M667.45 74.4v-14.8M667.45 448.9v14.8M480.20 261.65h-14.8M854.70 261.65h14.8" stroke="#000" stroke-width="2.3"/><path d="M679.15 74.4v-7M679.15 448.9v7M480.20 249.95h-7M854.70 249.95h7" stroke="#000" stroke-width="1.4"/><path d="M690.86 74.4v-7M690.86 448.9v7M480.20 238.24h-7M854.70 238.24h7" stroke="#000" stroke-width="1.4"/><path d="M702.56 74.4v-7M702.56 448.9v7M480.20 226.54h-7M854.70 226.54h7" stroke="#000" stroke-width="1.4"/><path d="M714.26 74.4v-7M714.26 448.9v7M480.20 214.84h-7M854.70 214.84h7" stroke="#000" stroke-width="1.4"/><path d="M725.97 74.4v-7M725.97 448.9v7M480.20 203.13h-7M854.70 203.13h7" stroke="#000" stroke-width="1.4"/><path d="M737.67 74.4v-7M737.67 448.9v7M480.20 191.43h-7M854.70 191.43h7" stroke="#000" stroke-width="1.4"/><path d="M749.37 74.4v-7M749.37 448.9v7M480.20 179.73h-7M854.70 179.73h7" stroke="#000" stroke-width="1.4"/><path d="M761.08 74.4v-14.8M761.08 448.9v14.8M480.20 168.03h-14.8M854.70 168.03h14.8" stroke="#000" stroke-width="2.3"/><path d="M772.78 74.4v-7M772.78 448.9v7M480.20 156.32h-7M854.70 156.32h7" stroke="#000" stroke-width="1.4"/><path d="M784.48 74.4v-7M784.48 448.9v7M480.20 144.62h-7M854.70 144.62h7" stroke="#000" stroke-width="1.4"/><path d="M796.18 74.4v-7M796.18 448.9v7M480.20 132.92h-7M854.70 132.92h7" stroke="#000" stroke-width="1.4"/><path d="M807.89 74.4v-7M807.89 448.9v7M480.20 121.21h-7M854.70 121.21h7" stroke="#000" stroke-width="1.4"/><path d="M819.59 74.4v-7M819.59 448.9v7M480.20 109.51h-7M854.70 109.51h7" stroke="#000" stroke-width="1.4"/><path d="M831.29 74.4v-7M831.29 448.9v7M480.20 97.81h-7M854.70 97.81h7" stroke="#000" stroke-width="1.4"/><path d="M843.00 74.4v-7M843.00 448.9v7M480.20 86.10h-7M854.70 86.10h7" stroke="#000" stroke-width="1.4"/><path d="M854.70 74.4v-14.8M854.70 448.9v14.8M480.20 74.40h-14.8M854.70 74.40h14.8" stroke="#000" stroke-width="2.3"/><text transform="translate(61 24.8) scale(0.88 1)" font-size="34.9" textLength="590.9" lengthAdjust="spacing">Fukuoka, 20181130 [22:21, el=0.0]</text><text transform="translate(59.4 58.6) scale(0.88 1)" font-size="30.2" textLength="133.0" lengthAdjust="spacing">SNR [dB]</text><text transform="translate(481 58.6) scale(0.88 1)" font-size="30.2" textLength="346.6" lengthAdjust="spacing">Doppler Velocity [m/s]</text><text x="31" y="84.80" font-size="30.3" text-anchor="end">8</text><text x="31" y="178.43" font-size="30.3" text-anchor="end">4</text><text x="31" y="272.05" font-size="30.3" text-anchor="end">0</text><text x="31" y="365.67" font-size="30.3" text-anchor="end" textLength="31.5" lengthAdjust="spacingAndGlyphs">−4</text><text x="31" y="459.30" font-size="30.3" text-anchor="end" textLength="31.5" lengthAdjust="spacingAndGlyphs">−8</text><text x="59.00" y="499.8" font-size="30.3" text-anchor="middle" textLength="31.5" lengthAdjust="spacingAndGlyphs">−8</text><text x="152.62" y="499.8" font-size="30.3" text-anchor="middle" textLength="31.5" lengthAdjust="spacingAndGlyphs">−4</text><text x="246.25" y="499.8" font-size="30.3" text-anchor="middle">0</text><text x="339.88" y="499.8" font-size="30.3" text-anchor="middle">4</text><text x="433.50" y="499.8" font-size="30.3" text-anchor="middle">8</text><text x="480.20" y="499.8" font-size="30.3" text-anchor="middle" textLength="31.5" lengthAdjust="spacingAndGlyphs">−8</text><text x="573.83" y="499.8" font-size="30.3" text-anchor="middle" textLength="31.5" lengthAdjust="spacingAndGlyphs">−4</text><text x="667.45" y="499.8" font-size="30.3" text-anchor="middle">0</text><text x="761.08" y="499.8" font-size="30.3" text-anchor="middle">4</text><text x="854.70" y="499.8" font-size="30.3" text-anchor="middle">8</text><rect x="58.20" y="509.4" width="9.12" height="9.3" fill="rgb(0,0,0)" stroke="#000" stroke-width="2"/><rect x="67.32" y="509.4" width="9.12" height="9.3" fill="rgb(0,0,0)" stroke="#000" stroke-width="2"/><rect x="76.44" y="509.4" width="9.12" height="9.3" fill="rgb(0,0,0)" stroke="#000" stroke-width="2"/><rect x="85.56" y="509.4" width="9.12" height="9.3" fill="rgb(0,0,0)" stroke="#000" stroke-width="2"/><rect x="94.68" y="509.4" width="9.12" height="9.3" fill="rgb(0,0,0)" stroke="#000" stroke-width="2"/><rect x="103.80" y="509.4" width="9.12" height="9.3" fill="rgb(0,0,0)" stroke="#000" stroke-width="2"/><rect x="112.92" y="509.4" width="9.12" height="9.3" fill="rgb(0,0,0)" stroke="#000" stroke-width="2"/><rect x="122.04" y="509.4" width="9.12" height="9.3" fill="rgb(0,0,0)" stroke="#000" stroke-width="2"/><rect x="131.16" y="509.4" width="9.12" height="9.3" fill="rgb(0,0,0)" stroke="#000" stroke-width="2"/><rect x="140.28" y="509.4" width="9.12" height="9.3" fill="rgb(0,0,0)" stroke="#000" stroke-width="2"/><rect x="149.40" y="509.4" width="9.12" height="9.3" fill="rgb(10,10,10)" stroke="#000" stroke-width="2"/><rect x="158.52" y="509.4" width="9.12" height="9.3" fill="rgb(20,20,20)" stroke="#000" stroke-width="2"/><rect x="167.64" y="509.4" width="9.12" height="9.3" fill="rgb(29,29,29)" stroke="#000" stroke-width="2"/><rect x="176.76" y="509.4" width="9.12" height="9.3" fill="rgb(39,39,39)" stroke="#000" stroke-width="2"/><rect x="185.88" y="509.4" width="9.12" height="9.3" fill="rgb(49,49,49)" stroke="#000" stroke-width="2"/><rect x="195.00" y="509.4" width="9.12" height="9.3" fill="rgb(59,59,59)" stroke="#000" stroke-width="2"/><rect x="204.12" y="509.4" width="9.12" height="9.3" fill="rgb(69,69,69)" stroke="#000" stroke-width="2"/><rect x="213.24" y="509.4" width="9.12" height="9.3" fill="rgb(78,78,78)" stroke="#000" stroke-width="2"/><rect x="222.36" y="509.4" width="9.12" height="9.3" fill="rgb(88,88,88)" stroke="#000" stroke-width="2"/><rect x="231.48" y="509.4" width="9.12" height="9.3" fill="rgb(98,98,98)" stroke="#000" stroke-width="2"/><rect x="240.60" y="509.4" width="9.12" height="9.3" fill="rgb(108,108,108)" stroke="#000" stroke-width="2"/><rect x="249.72" y="509.4" width="9.12" height="9.3" fill="rgb(118,118,118)" stroke="#000" stroke-width="2"/><rect x="258.84" y="509.4" width="9.12" height="9.3" fill="rgb(128,128,128)" stroke="#000" stroke-width="2"/><rect x="267.96" y="509.4" width="9.12" height="9.3" fill="rgb(137,137,137)" stroke="#000" stroke-width="2"/><rect x="277.08" y="509.4" width="9.12" height="9.3" fill="rgb(147,147,147)" stroke="#000" stroke-width="2"/><rect x="286.20" y="509.4" width="9.12" height="9.3" fill="rgb(157,157,157)" stroke="#000" stroke-width="2"/><rect x="295.32" y="509.4" width="9.12" height="9.3" fill="rgb(167,167,167)" stroke="#000" stroke-width="2"/><rect x="304.44" y="509.4" width="9.12" height="9.3" fill="rgb(177,177,177)" stroke="#000" stroke-width="2"/><rect x="313.56" y="509.4" width="9.12" height="9.3" fill="rgb(186,186,186)" stroke="#000" stroke-width="2"/><rect x="322.68" y="509.4" width="9.12" height="9.3" fill="rgb(196,196,196)" stroke="#000" stroke-width="2"/><rect x="331.80" y="509.4" width="9.12" height="9.3" fill="rgb(206,206,206)" stroke="#000" stroke-width="2"/><rect x="340.92" y="509.4" width="9.12" height="9.3" fill="rgb(216,216,216)" stroke="#000" stroke-width="2"/><rect x="350.04" y="509.4" width="9.12" height="9.3" fill="rgb(226,226,226)" stroke="#000" stroke-width="2"/><rect x="359.16" y="509.4" width="9.12" height="9.3" fill="rgb(235,235,235)" stroke="#000" stroke-width="2"/><rect x="368.28" y="509.4" width="9.12" height="9.3" fill="rgb(245,245,245)" stroke="#000" stroke-width="2"/><rect x="377.40" y="509.4" width="9.12" height="9.3" fill="rgb(248,248,248)" stroke="#000" stroke-width="2"/><path d="M386.52 509.4L395.52 514.5L386.52 519.6Z" fill="#ff0" stroke="#000" stroke-width="2" stroke-linejoin="miter"/><path d="M58.20 519v14.5" stroke="#000" stroke-width="2"/><path d="M67.32 519v7.5" stroke="#000" stroke-width="2"/><path d="M76.44 519v7.5" stroke="#000" stroke-width="2"/><path d="M85.56 519v7.5" stroke="#000" stroke-width="2"/><path d="M94.68 519v7.5" stroke="#000" stroke-width="2"/><path d="M103.80 519v14.5" stroke="#000" stroke-width="2"/><path d="M112.92 519v7.5" stroke="#000" stroke-width="2"/><path d="M122.04 519v7.5" stroke="#000" stroke-width="2"/><path d="M131.16 519v7.5" stroke="#000" stroke-width="2"/><path d="M140.28 519v7.5" stroke="#000" stroke-width="2"/><path d="M149.40 519v14.5" stroke="#000" stroke-width="2"/><path d="M158.52 519v7.5" stroke="#000" stroke-width="2"/><path d="M167.64 519v7.5" stroke="#000" stroke-width="2"/><path d="M176.76 519v7.5" stroke="#000" stroke-width="2"/><path d="M185.88 519v7.5" stroke="#000" stroke-width="2"/><path d="M195.00 519v14.5" stroke="#000" stroke-width="2"/><path d="M204.12 519v7.5" stroke="#000" stroke-width="2"/><path d="M213.24 519v7.5" stroke="#000" stroke-width="2"/><path d="M222.36 519v7.5" stroke="#000" stroke-width="2"/><path d="M231.48 519v7.5" stroke="#000" stroke-width="2"/><path d="M240.60 519v14.5" stroke="#000" stroke-width="2"/><path d="M249.72 519v7.5" stroke="#000" stroke-width="2"/><path d="M258.84 519v7.5" stroke="#000" stroke-width="2"/><path d="M267.96 519v7.5" stroke="#000" stroke-width="2"/><path d="M277.08 519v7.5" stroke="#000" stroke-width="2"/><path d="M286.20 519v14.5" stroke="#000" stroke-width="2"/><path d="M295.32 519v7.5" stroke="#000" stroke-width="2"/><path d="M304.44 519v7.5" stroke="#000" stroke-width="2"/><path d="M313.56 519v7.5" stroke="#000" stroke-width="2"/><path d="M322.68 519v7.5" stroke="#000" stroke-width="2"/><path d="M331.80 519v14.5" stroke="#000" stroke-width="2"/><path d="M340.92 519v7.5" stroke="#000" stroke-width="2"/><path d="M350.04 519v7.5" stroke="#000" stroke-width="2"/><path d="M359.16 519v7.5" stroke="#000" stroke-width="2"/><path d="M368.28 519v7.5" stroke="#000" stroke-width="2"/><path d="M377.40 519v14.5" stroke="#000" stroke-width="2"/><path d="M386.52 519v7.5" stroke="#000" stroke-width="2"/><text x="58.20" y="570.2" font-size="30.3" text-anchor="middle">0</text><text x="103.80" y="570.2" font-size="30.3" text-anchor="middle">2.5</text><text x="149.40" y="570.2" font-size="30.3" text-anchor="middle">5</text><text x="195.00" y="570.2" font-size="30.3" text-anchor="middle">7.5</text><text x="240.60" y="570.2" font-size="30.3" text-anchor="middle">10</text><text x="286.20" y="570.2" font-size="30.3" text-anchor="middle">12.5</text><text x="331.80" y="570.2" font-size="30.3" text-anchor="middle">15</text><text x="377.40" y="570.2" font-size="30.3" text-anchor="middle">17.5</text><rect x="480.42" y="509.4" width="8.62" height="9.3" fill="#ccffff" stroke="#000" stroke-width="2"/><rect x="489.04" y="509.4" width="8.62" height="9.3" fill="#b0ffff" stroke="#000" stroke-width="2"/><rect x="497.66" y="509.4" width="8.62" height="9.3" fill="#98ffff" stroke="#000" stroke-width="2"/><rect x="506.28" y="509.4" width="8.62" height="9.3" fill="#88ffff" stroke="#000" stroke-width="2"/><rect x="514.90" y="509.4" width="8.62" height="9.3" fill="#70fff8" stroke="#000" stroke-width="2"/><rect x="523.52" y="509.4" width="8.62" height="9.3" fill="#48e8f0" stroke="#000" stroke-width="2"/><rect x="532.14" y="509.4" width="8.62" height="9.3" fill="#30c8f8" stroke="#000" stroke-width="2"/><rect x="540.76" y="509.4" width="8.62" height="9.3" fill="#20b0ff" stroke="#000" stroke-width="2"/><rect x="549.38" y="509.4" width="8.62" height="9.3" fill="#1890ff" stroke="#000" stroke-width="2"/><rect x="558.00" y="509.4" width="8.62" height="9.3" fill="#0a70ff" stroke="#000" stroke-width="2"/><rect x="566.62" y="509.4" width="8.62" height="9.3" fill="#0050ff" stroke="#000" stroke-width="2"/><rect x="575.24" y="509.4" width="8.62" height="9.3" fill="#1030ff" stroke="#000" stroke-width="2"/><rect x="583.86" y="509.4" width="8.62" height="9.3" fill="#0010f8" stroke="#000" stroke-width="2"/><rect x="592.48" y="509.4" width="8.62" height="9.3" fill="#0000e0" stroke="#000" stroke-width="2"/><rect x="601.10" y="509.4" width="8.62" height="9.3" fill="#0000c8" stroke="#000" stroke-width="2"/><rect x="609.72" y="509.4" width="8.62" height="9.3" fill="#0000a8" stroke="#000" stroke-width="2"/><rect x="618.34" y="509.4" width="8.62" height="9.3" fill="#000090" stroke="#000" stroke-width="2"/><rect x="626.96" y="509.4" width="8.62" height="9.3" fill="#000078" stroke="#000" stroke-width="2"/><rect x="635.58" y="509.4" width="8.62" height="9.3" fill="#000058" stroke="#000" stroke-width="2"/><rect x="644.20" y="509.4" width="8.62" height="9.3" fill="#ee0000" stroke="#000" stroke-width="2"/><rect x="652.82" y="509.4" width="8.62" height="9.3" fill="#ff1800" stroke="#000" stroke-width="2"/><rect x="661.44" y="509.4" width="8.62" height="9.3" fill="#ff3000" stroke="#000" stroke-width="2"/><rect x="670.06" y="509.4" width="8.62" height="9.3" fill="#ff4000" stroke="#000" stroke-width="2"/><rect x="678.68" y="509.4" width="8.62" height="9.3" fill="#ff5800" stroke="#000" stroke-width="2"/><rect x="687.30" y="509.4" width="8.62" height="9.3" fill="#ff7000" stroke="#000" stroke-width="2"/><rect x="695.92" y="509.4" width="8.62" height="9.3" fill="#ff8000" stroke="#000" stroke-width="2"/><rect x="704.54" y="509.4" width="8.62" height="9.3" fill="#ffa000" stroke="#000" stroke-width="2"/><rect x="713.16" y="509.4" width="8.62" height="9.3" fill="#ffb020" stroke="#000" stroke-width="2"/><rect x="721.78" y="509.4" width="8.62" height="9.3" fill="#ffc030" stroke="#000" stroke-width="2"/><rect x="730.40" y="509.4" width="8.62" height="9.3" fill="#ffe040" stroke="#000" stroke-width="2"/><rect x="739.02" y="509.4" width="8.62" height="9.3" fill="#ffff50" stroke="#000" stroke-width="2"/><rect x="747.64" y="509.4" width="8.62" height="9.3" fill="#ffff70" stroke="#000" stroke-width="2"/><rect x="756.26" y="509.4" width="8.62" height="9.3" fill="#ffff80" stroke="#000" stroke-width="2"/><rect x="764.88" y="509.4" width="8.62" height="9.3" fill="#ffff98" stroke="#000" stroke-width="2"/><rect x="773.50" y="509.4" width="8.62" height="9.3" fill="#ffffa8" stroke="#000" stroke-width="2"/><rect x="782.12" y="509.4" width="8.62" height="9.3" fill="#ffffc0" stroke="#000" stroke-width="2"/><rect x="790.74" y="509.4" width="8.62" height="9.3" fill="#ffffd8" stroke="#000" stroke-width="2"/><rect x="799.36" y="509.4" width="8.62" height="9.3" fill="#ffffe8" stroke="#000" stroke-width="2"/><path d="M480.42 509.4L471.12 514.5L480.42 519.6Z" fill="#e8ffff" stroke="#000" stroke-width="2"/><path d="M807.98 509.4L816.58 514.5L807.98 519.6Z" fill="#fffff0" stroke="#000" stroke-width="2"/><path d="M480.42 519v7.5" stroke="#000" stroke-width="2"/><path d="M489.04 519v7.5" stroke="#000" stroke-width="2"/><path d="M497.66 519v7.5" stroke="#000" stroke-width="2"/><path d="M506.28 519v14.5" stroke="#000" stroke-width="2"/><path d="M514.90 519v7.5" stroke="#000" stroke-width="2"/><path d="M523.52 519v7.5" stroke="#000" stroke-width="2"/><path d="M532.14 519v7.5" stroke="#000" stroke-width="2"/><path d="M540.76 519v7.5" stroke="#000" stroke-width="2"/><path d="M549.38 519v7.5" stroke="#000" stroke-width="2"/><path d="M558.00 519v7.5" stroke="#000" stroke-width="2"/><path d="M566.62 519v7.5" stroke="#000" stroke-width="2"/><path d="M575.24 519v14.5" stroke="#000" stroke-width="2"/><path d="M583.86 519v7.5" stroke="#000" stroke-width="2"/><path d="M592.48 519v7.5" stroke="#000" stroke-width="2"/><path d="M601.10 519v7.5" stroke="#000" stroke-width="2"/><path d="M609.72 519v7.5" stroke="#000" stroke-width="2"/><path d="M618.34 519v7.5" stroke="#000" stroke-width="2"/><path d="M626.96 519v7.5" stroke="#000" stroke-width="2"/><path d="M635.58 519v7.5" stroke="#000" stroke-width="2"/><path d="M644.20 519v14.5" stroke="#000" stroke-width="2"/><path d="M652.82 519v7.5" stroke="#000" stroke-width="2"/><path d="M661.44 519v7.5" stroke="#000" stroke-width="2"/><path d="M670.06 519v7.5" stroke="#000" stroke-width="2"/><path d="M678.68 519v7.5" stroke="#000" stroke-width="2"/><path d="M687.30 519v7.5" stroke="#000" stroke-width="2"/><path d="M695.92 519v7.5" stroke="#000" stroke-width="2"/><path d="M704.54 519v7.5" stroke="#000" stroke-width="2"/><path d="M713.16 519v14.5" stroke="#000" stroke-width="2"/><path d="M721.78 519v7.5" stroke="#000" stroke-width="2"/><path d="M730.40 519v7.5" stroke="#000" stroke-width="2"/><path d="M739.02 519v7.5" stroke="#000" stroke-width="2"/><path d="M747.64 519v7.5" stroke="#000" stroke-width="2"/><path d="M756.26 519v7.5" stroke="#000" stroke-width="2"/><path d="M764.88 519v7.5" stroke="#000" stroke-width="2"/><path d="M773.50 519v7.5" stroke="#000" stroke-width="2"/><path d="M782.12 519v14.5" stroke="#000" stroke-width="2"/><path d="M790.74 519v7.5" stroke="#000" stroke-width="2"/><path d="M799.36 519v7.5" stroke="#000" stroke-width="2"/><path d="M807.98 519v7.5" stroke="#000" stroke-width="2"/><text x="506.28" y="570.2" font-size="30.3" text-anchor="middle" textLength="31.5" lengthAdjust="spacingAndGlyphs">−8</text><text x="575.24" y="570.2" font-size="30.3" text-anchor="middle" textLength="31.5" lengthAdjust="spacingAndGlyphs">−4</text><text x="644.20" y="570.2" font-size="30.3" text-anchor="middle">0</text><text x="713.16" y="570.2" font-size="30.3" text-anchor="middle">4</text><text x="782.12" y="570.2" font-size="30.3" text-anchor="middle">8</text></svg></body></html>
